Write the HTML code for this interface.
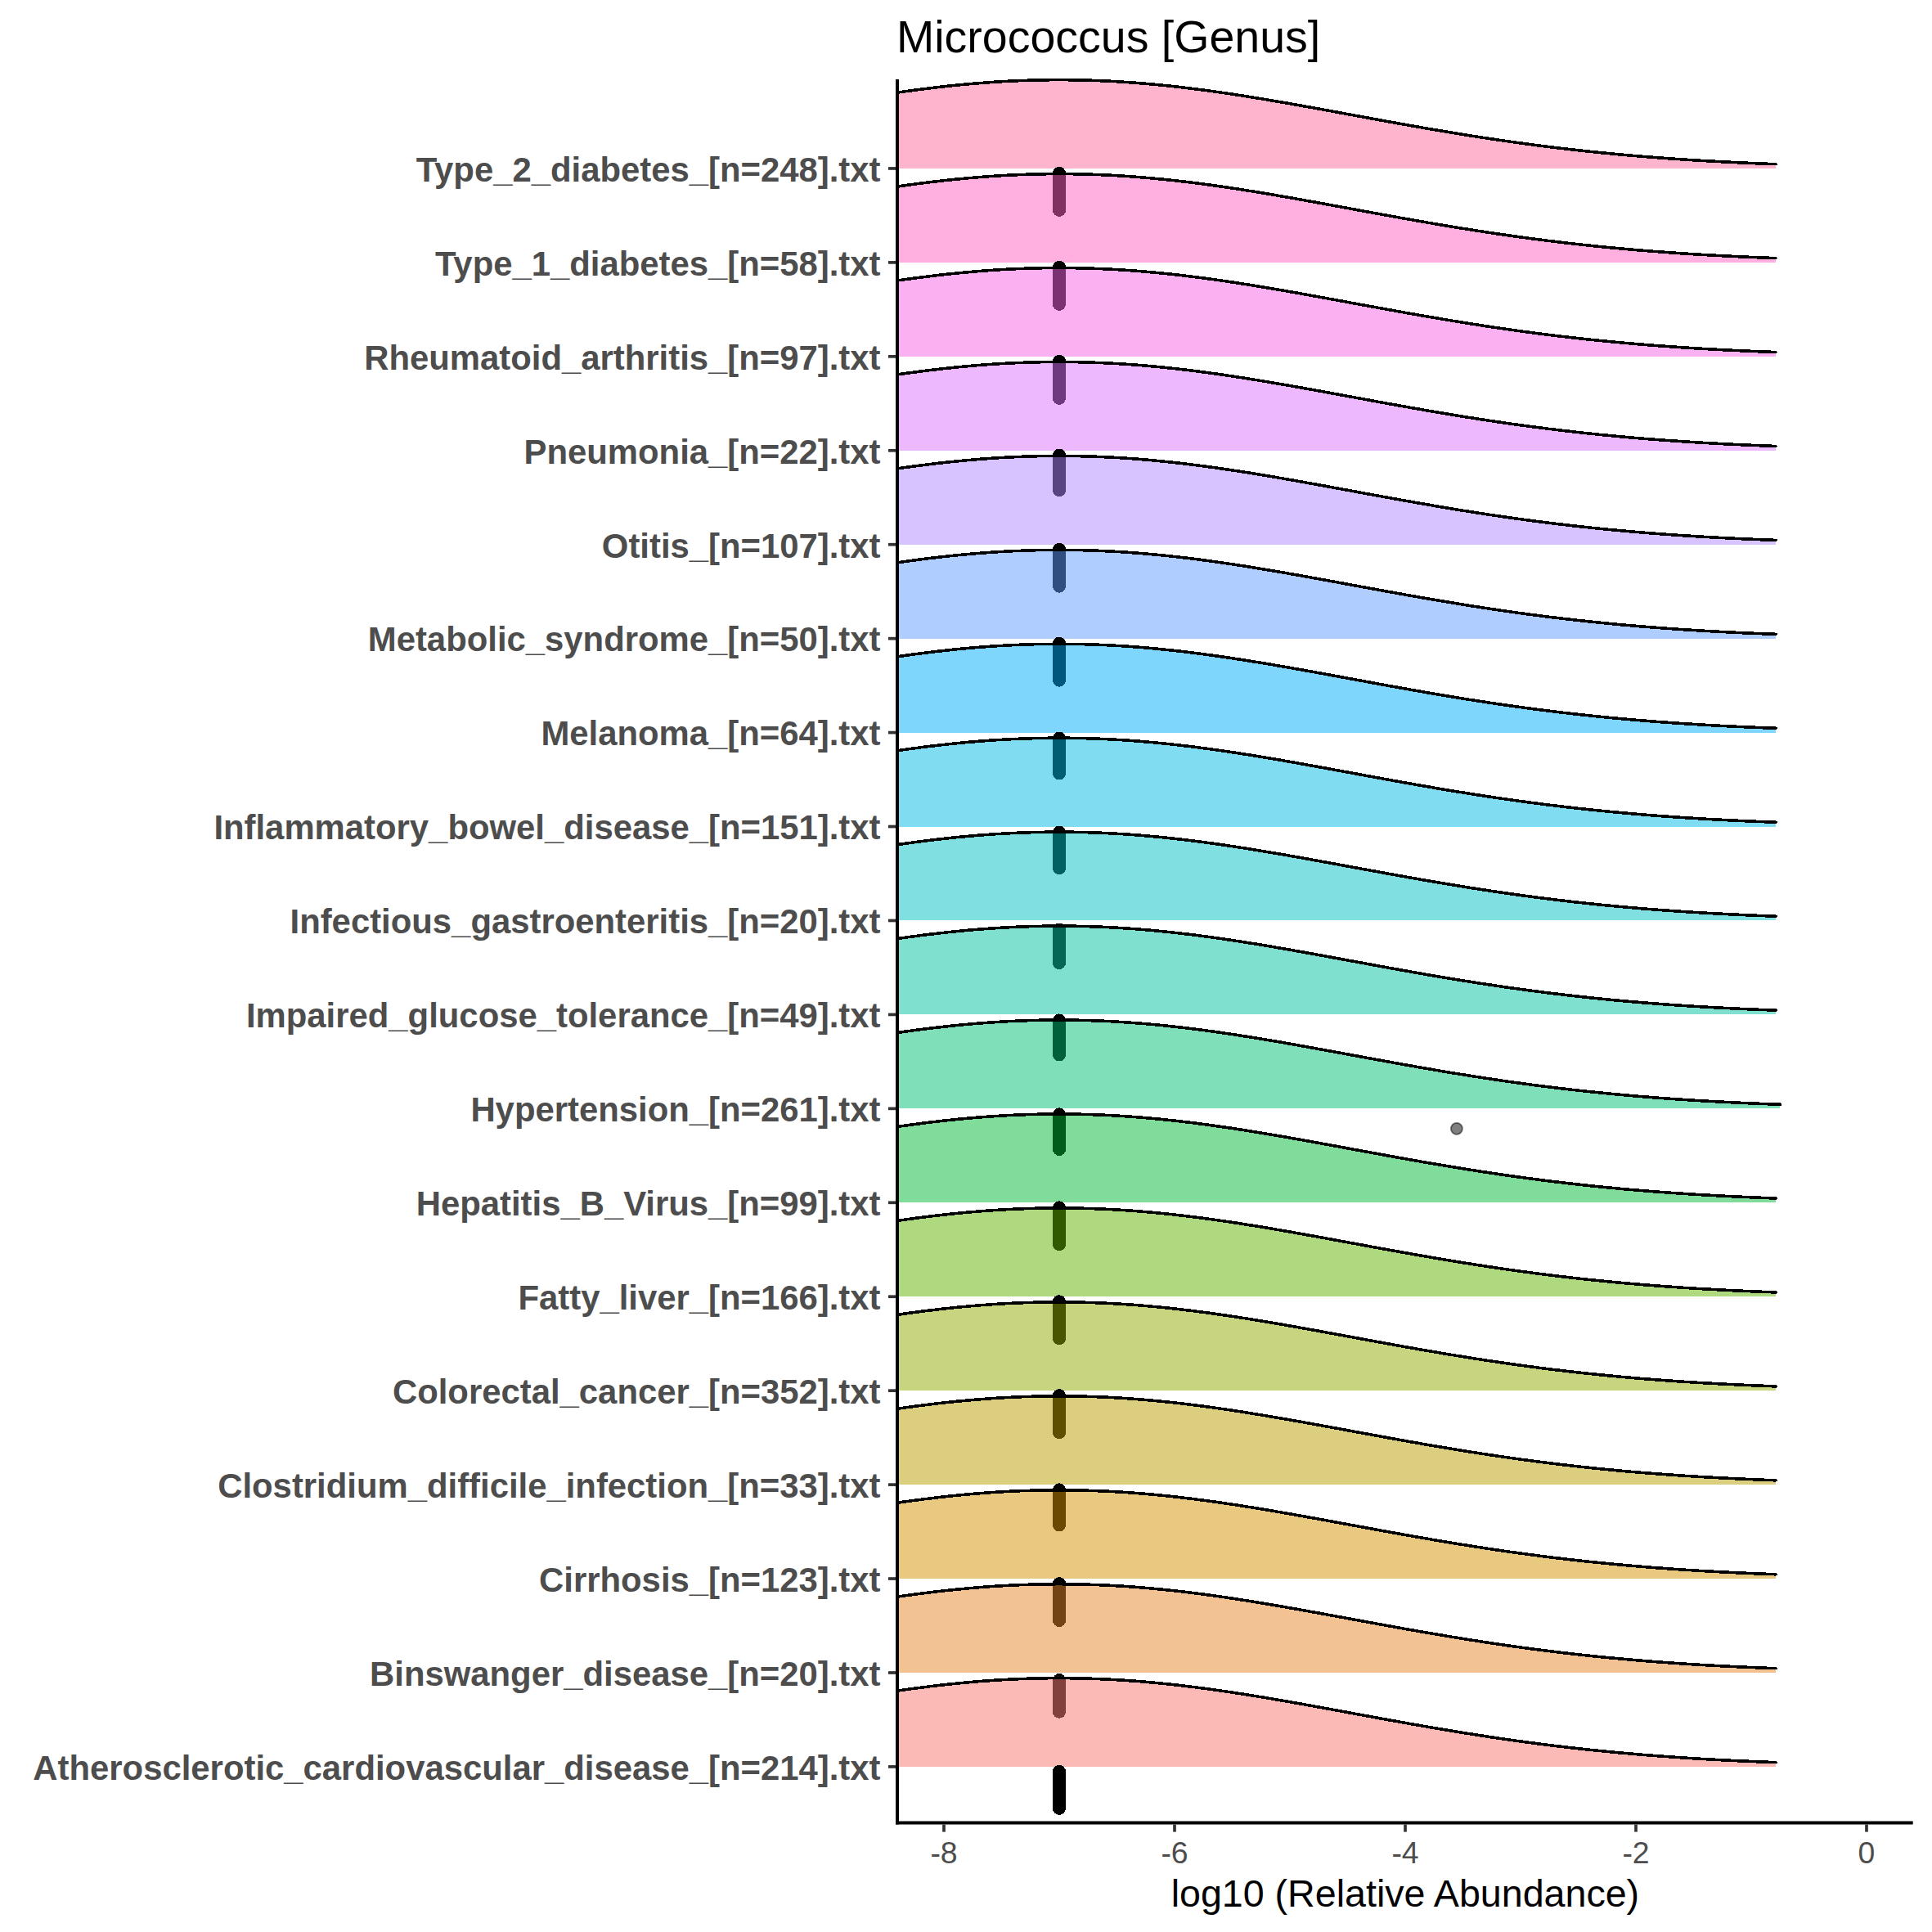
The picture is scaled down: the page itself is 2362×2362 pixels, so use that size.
<!DOCTYPE html><html><head><meta charset="utf-8"><style>html,body{margin:0;padding:0;background:#fff;}svg{display:block;}text{font-family:"Liberation Sans",sans-serif;}</style></head><body>
<svg width="2362" height="2362" viewBox="0 0 2362 2362">
<rect width="2362" height="2362" fill="#fff"/>
<defs><clipPath id="pc"><rect x="1097.0" y="0" width="1241.6999999999998" height="2362"/></clipPath></defs>
<g clip-path="url(#pc)" shape-rendering="crispEdges">
<path d="M1095.0,205.95 L1095.0,113.42 1101.0,112.56 1107.0,111.71 1113.0,110.89 1119.0,110.08 1125.0,109.29 1131.0,108.53 1137.0,107.78 1143.0,107.06 1149.0,106.36 1155.0,105.69 1161.0,105.04 1167.0,104.41 1173.0,103.81 1179.0,103.24 1185.0,102.69 1191.0,102.16 1197.0,101.67 1203.0,101.20 1209.0,100.76 1215.0,100.34 1221.0,99.96 1227.0,99.60 1233.0,99.28 1239.0,98.98 1245.0,98.71 1251.0,98.47 1257.0,98.26 1263.0,98.09 1269.0,97.94 1275.0,97.82 1281.0,97.73 1287.0,97.68 1293.0,97.65 1299.0,97.66 1305.0,97.69 1311.0,97.76 1317.0,97.86 1323.0,97.98 1329.0,98.14 1335.0,98.33 1341.0,98.55 1347.0,98.80 1353.0,99.07 1359.0,99.38 1365.0,99.72 1371.0,100.08 1377.0,100.48 1383.0,100.90 1389.0,101.35 1395.0,101.83 1401.0,102.33 1407.0,102.87 1413.0,103.42 1419.0,104.01 1425.0,104.62 1431.0,105.25 1437.0,105.91 1443.0,106.59 1449.0,107.30 1455.0,108.03 1461.0,108.78 1467.0,109.55 1473.0,110.35 1479.0,111.16 1485.0,111.99 1491.0,112.85 1497.0,113.72 1503.0,114.60 1509.0,115.51 1515.0,116.43 1521.0,117.37 1527.0,118.32 1533.0,119.29 1539.0,120.27 1545.0,121.26 1551.0,122.27 1557.0,123.29 1563.0,124.32 1569.0,125.35 1575.0,126.40 1581.0,127.46 1587.0,128.52 1593.0,129.59 1599.0,130.67 1605.0,131.75 1611.0,132.84 1617.0,133.93 1623.0,135.03 1629.0,136.13 1635.0,137.23 1641.0,138.34 1647.0,139.44 1653.0,140.55 1659.0,141.65 1665.0,142.76 1671.0,143.86 1677.0,144.96 1683.0,146.06 1689.0,147.16 1695.0,148.25 1701.0,149.34 1707.0,150.42 1713.0,151.50 1719.0,152.57 1725.0,153.64 1731.0,154.69 1737.0,155.75 1743.0,156.79 1749.0,157.83 1755.0,158.85 1761.0,159.87 1767.0,160.88 1773.0,161.88 1779.0,162.87 1785.0,163.85 1791.0,164.82 1797.0,165.78 1803.0,166.72 1809.0,167.66 1815.0,168.58 1821.0,169.49 1827.0,170.39 1833.0,171.28 1839.0,172.16 1845.0,173.02 1851.0,173.87 1857.0,174.70 1863.0,175.52 1869.0,176.33 1875.0,177.13 1881.0,177.91 1887.0,178.68 1893.0,179.44 1899.0,180.18 1905.0,180.91 1911.0,181.62 1917.0,182.32 1923.0,183.01 1929.0,183.68 1935.0,184.34 1941.0,184.99 1947.0,185.62 1953.0,186.24 1959.0,186.85 1965.0,187.44 1971.0,188.02 1977.0,188.58 1983.0,189.14 1989.0,189.68 1995.0,190.20 2001.0,190.72 2007.0,191.22 2013.0,191.71 2019.0,192.19 2025.0,192.65 2031.0,193.10 2037.0,193.54 2043.0,193.97 2049.0,194.39 2055.0,194.80 2061.0,195.19 2067.0,195.57 2073.0,195.95 2079.0,196.31 2085.0,196.66 2091.0,197.00 2097.0,197.33 2103.0,197.65 2109.0,197.97 2115.0,198.27 2121.0,198.56 2127.0,198.85 2133.0,199.12 2139.0,199.39 2145.0,199.64 2151.0,199.89 2157.0,200.13 2163.0,200.37 2169.0,200.59 2171.0,200.66 L2171.0,205.95Z" fill="#FF699C" fill-opacity="0.5"/>
<path d="M1095.0,113.42 1101.0,112.56 1107.0,111.71 1113.0,110.89 1119.0,110.08 1125.0,109.29 1131.0,108.53 1137.0,107.78 1143.0,107.06 1149.0,106.36 1155.0,105.69 1161.0,105.04 1167.0,104.41 1173.0,103.81 1179.0,103.24 1185.0,102.69 1191.0,102.16 1197.0,101.67 1203.0,101.20 1209.0,100.76 1215.0,100.34 1221.0,99.96 1227.0,99.60 1233.0,99.28 1239.0,98.98 1245.0,98.71 1251.0,98.47 1257.0,98.26 1263.0,98.09 1269.0,97.94 1275.0,97.82 1281.0,97.73 1287.0,97.68 1293.0,97.65 1299.0,97.66 1305.0,97.69 1311.0,97.76 1317.0,97.86 1323.0,97.98 1329.0,98.14 1335.0,98.33 1341.0,98.55 1347.0,98.80 1353.0,99.07 1359.0,99.38 1365.0,99.72 1371.0,100.08 1377.0,100.48 1383.0,100.90 1389.0,101.35 1395.0,101.83 1401.0,102.33 1407.0,102.87 1413.0,103.42 1419.0,104.01 1425.0,104.62 1431.0,105.25 1437.0,105.91 1443.0,106.59 1449.0,107.30 1455.0,108.03 1461.0,108.78 1467.0,109.55 1473.0,110.35 1479.0,111.16 1485.0,111.99 1491.0,112.85 1497.0,113.72 1503.0,114.60 1509.0,115.51 1515.0,116.43 1521.0,117.37 1527.0,118.32 1533.0,119.29 1539.0,120.27 1545.0,121.26 1551.0,122.27 1557.0,123.29 1563.0,124.32 1569.0,125.35 1575.0,126.40 1581.0,127.46 1587.0,128.52 1593.0,129.59 1599.0,130.67 1605.0,131.75 1611.0,132.84 1617.0,133.93 1623.0,135.03 1629.0,136.13 1635.0,137.23 1641.0,138.34 1647.0,139.44 1653.0,140.55 1659.0,141.65 1665.0,142.76 1671.0,143.86 1677.0,144.96 1683.0,146.06 1689.0,147.16 1695.0,148.25 1701.0,149.34 1707.0,150.42 1713.0,151.50 1719.0,152.57 1725.0,153.64 1731.0,154.69 1737.0,155.75 1743.0,156.79 1749.0,157.83 1755.0,158.85 1761.0,159.87 1767.0,160.88 1773.0,161.88 1779.0,162.87 1785.0,163.85 1791.0,164.82 1797.0,165.78 1803.0,166.72 1809.0,167.66 1815.0,168.58 1821.0,169.49 1827.0,170.39 1833.0,171.28 1839.0,172.16 1845.0,173.02 1851.0,173.87 1857.0,174.70 1863.0,175.52 1869.0,176.33 1875.0,177.13 1881.0,177.91 1887.0,178.68 1893.0,179.44 1899.0,180.18 1905.0,180.91 1911.0,181.62 1917.0,182.32 1923.0,183.01 1929.0,183.68 1935.0,184.34 1941.0,184.99 1947.0,185.62 1953.0,186.24 1959.0,186.85 1965.0,187.44 1971.0,188.02 1977.0,188.58 1983.0,189.14 1989.0,189.68 1995.0,190.20 2001.0,190.72 2007.0,191.22 2013.0,191.71 2019.0,192.19 2025.0,192.65 2031.0,193.10 2037.0,193.54 2043.0,193.97 2049.0,194.39 2055.0,194.80 2061.0,195.19 2067.0,195.57 2073.0,195.95 2079.0,196.31 2085.0,196.66 2091.0,197.00 2097.0,197.33 2103.0,197.65 2109.0,197.97 2115.0,198.27 2121.0,198.56 2127.0,198.85 2133.0,199.12 2139.0,199.39 2145.0,199.64 2151.0,199.89 2157.0,200.13 2163.0,200.37 2169.0,200.59 2171.0,200.66" fill="none" stroke="#000" stroke-width="3.6" stroke-linejoin="round" stroke-linecap="round"/>
<line x1="1295.0" y1="211.95" x2="1295.0" y2="256.95" stroke="#000" stroke-opacity="1.0" stroke-width="16" stroke-linecap="round"/>
<path d="M1095.0,320.89 L1095.0,228.36 1101.0,227.50 1107.0,226.65 1113.0,225.83 1119.0,225.02 1125.0,224.23 1131.0,223.47 1137.0,222.72 1143.0,222.00 1149.0,221.30 1155.0,220.63 1161.0,219.98 1167.0,219.35 1173.0,218.75 1179.0,218.18 1185.0,217.63 1191.0,217.10 1197.0,216.61 1203.0,216.14 1209.0,215.70 1215.0,215.28 1221.0,214.90 1227.0,214.54 1233.0,214.22 1239.0,213.92 1245.0,213.65 1251.0,213.41 1257.0,213.20 1263.0,213.03 1269.0,212.88 1275.0,212.76 1281.0,212.67 1287.0,212.62 1293.0,212.59 1299.0,212.60 1305.0,212.63 1311.0,212.70 1317.0,212.80 1323.0,212.92 1329.0,213.08 1335.0,213.27 1341.0,213.49 1347.0,213.74 1353.0,214.01 1359.0,214.32 1365.0,214.66 1371.0,215.02 1377.0,215.42 1383.0,215.84 1389.0,216.29 1395.0,216.77 1401.0,217.27 1407.0,217.81 1413.0,218.36 1419.0,218.95 1425.0,219.56 1431.0,220.19 1437.0,220.85 1443.0,221.53 1449.0,222.24 1455.0,222.97 1461.0,223.72 1467.0,224.49 1473.0,225.29 1479.0,226.10 1485.0,226.93 1491.0,227.79 1497.0,228.66 1503.0,229.54 1509.0,230.45 1515.0,231.37 1521.0,232.31 1527.0,233.26 1533.0,234.23 1539.0,235.21 1545.0,236.20 1551.0,237.21 1557.0,238.23 1563.0,239.26 1569.0,240.29 1575.0,241.34 1581.0,242.40 1587.0,243.46 1593.0,244.53 1599.0,245.61 1605.0,246.69 1611.0,247.78 1617.0,248.87 1623.0,249.97 1629.0,251.07 1635.0,252.17 1641.0,253.28 1647.0,254.38 1653.0,255.49 1659.0,256.59 1665.0,257.70 1671.0,258.80 1677.0,259.90 1683.0,261.00 1689.0,262.10 1695.0,263.19 1701.0,264.28 1707.0,265.36 1713.0,266.44 1719.0,267.51 1725.0,268.58 1731.0,269.63 1737.0,270.69 1743.0,271.73 1749.0,272.77 1755.0,273.79 1761.0,274.81 1767.0,275.82 1773.0,276.82 1779.0,277.81 1785.0,278.79 1791.0,279.76 1797.0,280.72 1803.0,281.66 1809.0,282.60 1815.0,283.52 1821.0,284.43 1827.0,285.33 1833.0,286.22 1839.0,287.10 1845.0,287.96 1851.0,288.81 1857.0,289.64 1863.0,290.46 1869.0,291.27 1875.0,292.07 1881.0,292.85 1887.0,293.62 1893.0,294.38 1899.0,295.12 1905.0,295.85 1911.0,296.56 1917.0,297.26 1923.0,297.95 1929.0,298.62 1935.0,299.28 1941.0,299.93 1947.0,300.56 1953.0,301.18 1959.0,301.79 1965.0,302.38 1971.0,302.96 1977.0,303.52 1983.0,304.08 1989.0,304.62 1995.0,305.14 2001.0,305.66 2007.0,306.16 2013.0,306.65 2019.0,307.13 2025.0,307.59 2031.0,308.04 2037.0,308.48 2043.0,308.91 2049.0,309.33 2055.0,309.74 2061.0,310.13 2067.0,310.51 2073.0,310.89 2079.0,311.25 2085.0,311.60 2091.0,311.94 2097.0,312.27 2103.0,312.59 2109.0,312.91 2115.0,313.21 2121.0,313.50 2127.0,313.79 2133.0,314.06 2139.0,314.33 2145.0,314.58 2151.0,314.83 2157.0,315.07 2163.0,315.31 2169.0,315.53 2171.0,315.60 L2171.0,320.89Z" fill="#FF61C3" fill-opacity="0.5"/>
<path d="M1095.0,228.36 1101.0,227.50 1107.0,226.65 1113.0,225.83 1119.0,225.02 1125.0,224.23 1131.0,223.47 1137.0,222.72 1143.0,222.00 1149.0,221.30 1155.0,220.63 1161.0,219.98 1167.0,219.35 1173.0,218.75 1179.0,218.18 1185.0,217.63 1191.0,217.10 1197.0,216.61 1203.0,216.14 1209.0,215.70 1215.0,215.28 1221.0,214.90 1227.0,214.54 1233.0,214.22 1239.0,213.92 1245.0,213.65 1251.0,213.41 1257.0,213.20 1263.0,213.03 1269.0,212.88 1275.0,212.76 1281.0,212.67 1287.0,212.62 1293.0,212.59 1299.0,212.60 1305.0,212.63 1311.0,212.70 1317.0,212.80 1323.0,212.92 1329.0,213.08 1335.0,213.27 1341.0,213.49 1347.0,213.74 1353.0,214.01 1359.0,214.32 1365.0,214.66 1371.0,215.02 1377.0,215.42 1383.0,215.84 1389.0,216.29 1395.0,216.77 1401.0,217.27 1407.0,217.81 1413.0,218.36 1419.0,218.95 1425.0,219.56 1431.0,220.19 1437.0,220.85 1443.0,221.53 1449.0,222.24 1455.0,222.97 1461.0,223.72 1467.0,224.49 1473.0,225.29 1479.0,226.10 1485.0,226.93 1491.0,227.79 1497.0,228.66 1503.0,229.54 1509.0,230.45 1515.0,231.37 1521.0,232.31 1527.0,233.26 1533.0,234.23 1539.0,235.21 1545.0,236.20 1551.0,237.21 1557.0,238.23 1563.0,239.26 1569.0,240.29 1575.0,241.34 1581.0,242.40 1587.0,243.46 1593.0,244.53 1599.0,245.61 1605.0,246.69 1611.0,247.78 1617.0,248.87 1623.0,249.97 1629.0,251.07 1635.0,252.17 1641.0,253.28 1647.0,254.38 1653.0,255.49 1659.0,256.59 1665.0,257.70 1671.0,258.80 1677.0,259.90 1683.0,261.00 1689.0,262.10 1695.0,263.19 1701.0,264.28 1707.0,265.36 1713.0,266.44 1719.0,267.51 1725.0,268.58 1731.0,269.63 1737.0,270.69 1743.0,271.73 1749.0,272.77 1755.0,273.79 1761.0,274.81 1767.0,275.82 1773.0,276.82 1779.0,277.81 1785.0,278.79 1791.0,279.76 1797.0,280.72 1803.0,281.66 1809.0,282.60 1815.0,283.52 1821.0,284.43 1827.0,285.33 1833.0,286.22 1839.0,287.10 1845.0,287.96 1851.0,288.81 1857.0,289.64 1863.0,290.46 1869.0,291.27 1875.0,292.07 1881.0,292.85 1887.0,293.62 1893.0,294.38 1899.0,295.12 1905.0,295.85 1911.0,296.56 1917.0,297.26 1923.0,297.95 1929.0,298.62 1935.0,299.28 1941.0,299.93 1947.0,300.56 1953.0,301.18 1959.0,301.79 1965.0,302.38 1971.0,302.96 1977.0,303.52 1983.0,304.08 1989.0,304.62 1995.0,305.14 2001.0,305.66 2007.0,306.16 2013.0,306.65 2019.0,307.13 2025.0,307.59 2031.0,308.04 2037.0,308.48 2043.0,308.91 2049.0,309.33 2055.0,309.74 2061.0,310.13 2067.0,310.51 2073.0,310.89 2079.0,311.25 2085.0,311.60 2091.0,311.94 2097.0,312.27 2103.0,312.59 2109.0,312.91 2115.0,313.21 2121.0,313.50 2127.0,313.79 2133.0,314.06 2139.0,314.33 2145.0,314.58 2151.0,314.83 2157.0,315.07 2163.0,315.31 2169.0,315.53 2171.0,315.60" fill="none" stroke="#000" stroke-width="3.6" stroke-linejoin="round" stroke-linecap="round"/>
<line x1="1295.0" y1="326.89" x2="1295.0" y2="371.89" stroke="#000" stroke-opacity="1.0" stroke-width="16" stroke-linecap="round"/>
<path d="M1095.0,435.83 L1095.0,343.30 1101.0,342.44 1107.0,341.59 1113.0,340.77 1119.0,339.96 1125.0,339.17 1131.0,338.41 1137.0,337.66 1143.0,336.94 1149.0,336.24 1155.0,335.57 1161.0,334.92 1167.0,334.29 1173.0,333.69 1179.0,333.12 1185.0,332.57 1191.0,332.04 1197.0,331.55 1203.0,331.08 1209.0,330.64 1215.0,330.22 1221.0,329.84 1227.0,329.48 1233.0,329.16 1239.0,328.86 1245.0,328.59 1251.0,328.35 1257.0,328.14 1263.0,327.97 1269.0,327.82 1275.0,327.70 1281.0,327.61 1287.0,327.56 1293.0,327.53 1299.0,327.54 1305.0,327.57 1311.0,327.64 1317.0,327.74 1323.0,327.86 1329.0,328.02 1335.0,328.21 1341.0,328.43 1347.0,328.68 1353.0,328.95 1359.0,329.26 1365.0,329.60 1371.0,329.96 1377.0,330.36 1383.0,330.78 1389.0,331.23 1395.0,331.71 1401.0,332.21 1407.0,332.75 1413.0,333.30 1419.0,333.89 1425.0,334.50 1431.0,335.13 1437.0,335.79 1443.0,336.47 1449.0,337.18 1455.0,337.91 1461.0,338.66 1467.0,339.43 1473.0,340.23 1479.0,341.04 1485.0,341.87 1491.0,342.73 1497.0,343.60 1503.0,344.48 1509.0,345.39 1515.0,346.31 1521.0,347.25 1527.0,348.20 1533.0,349.17 1539.0,350.15 1545.0,351.14 1551.0,352.15 1557.0,353.17 1563.0,354.20 1569.0,355.23 1575.0,356.28 1581.0,357.34 1587.0,358.40 1593.0,359.47 1599.0,360.55 1605.0,361.63 1611.0,362.72 1617.0,363.81 1623.0,364.91 1629.0,366.01 1635.0,367.11 1641.0,368.22 1647.0,369.32 1653.0,370.43 1659.0,371.53 1665.0,372.64 1671.0,373.74 1677.0,374.84 1683.0,375.94 1689.0,377.04 1695.0,378.13 1701.0,379.22 1707.0,380.30 1713.0,381.38 1719.0,382.45 1725.0,383.52 1731.0,384.57 1737.0,385.63 1743.0,386.67 1749.0,387.71 1755.0,388.73 1761.0,389.75 1767.0,390.76 1773.0,391.76 1779.0,392.75 1785.0,393.73 1791.0,394.70 1797.0,395.66 1803.0,396.60 1809.0,397.54 1815.0,398.46 1821.0,399.37 1827.0,400.27 1833.0,401.16 1839.0,402.04 1845.0,402.90 1851.0,403.75 1857.0,404.58 1863.0,405.40 1869.0,406.21 1875.0,407.01 1881.0,407.79 1887.0,408.56 1893.0,409.32 1899.0,410.06 1905.0,410.79 1911.0,411.50 1917.0,412.20 1923.0,412.89 1929.0,413.56 1935.0,414.22 1941.0,414.87 1947.0,415.50 1953.0,416.12 1959.0,416.73 1965.0,417.32 1971.0,417.90 1977.0,418.46 1983.0,419.02 1989.0,419.56 1995.0,420.08 2001.0,420.60 2007.0,421.10 2013.0,421.59 2019.0,422.07 2025.0,422.53 2031.0,422.98 2037.0,423.42 2043.0,423.85 2049.0,424.27 2055.0,424.68 2061.0,425.07 2067.0,425.45 2073.0,425.83 2079.0,426.19 2085.0,426.54 2091.0,426.88 2097.0,427.21 2103.0,427.53 2109.0,427.85 2115.0,428.15 2121.0,428.44 2127.0,428.73 2133.0,429.00 2139.0,429.27 2145.0,429.52 2151.0,429.77 2157.0,430.01 2163.0,430.25 2169.0,430.47 2171.0,430.54 L2171.0,435.83Z" fill="#F564E3" fill-opacity="0.5"/>
<path d="M1095.0,343.30 1101.0,342.44 1107.0,341.59 1113.0,340.77 1119.0,339.96 1125.0,339.17 1131.0,338.41 1137.0,337.66 1143.0,336.94 1149.0,336.24 1155.0,335.57 1161.0,334.92 1167.0,334.29 1173.0,333.69 1179.0,333.12 1185.0,332.57 1191.0,332.04 1197.0,331.55 1203.0,331.08 1209.0,330.64 1215.0,330.22 1221.0,329.84 1227.0,329.48 1233.0,329.16 1239.0,328.86 1245.0,328.59 1251.0,328.35 1257.0,328.14 1263.0,327.97 1269.0,327.82 1275.0,327.70 1281.0,327.61 1287.0,327.56 1293.0,327.53 1299.0,327.54 1305.0,327.57 1311.0,327.64 1317.0,327.74 1323.0,327.86 1329.0,328.02 1335.0,328.21 1341.0,328.43 1347.0,328.68 1353.0,328.95 1359.0,329.26 1365.0,329.60 1371.0,329.96 1377.0,330.36 1383.0,330.78 1389.0,331.23 1395.0,331.71 1401.0,332.21 1407.0,332.75 1413.0,333.30 1419.0,333.89 1425.0,334.50 1431.0,335.13 1437.0,335.79 1443.0,336.47 1449.0,337.18 1455.0,337.91 1461.0,338.66 1467.0,339.43 1473.0,340.23 1479.0,341.04 1485.0,341.87 1491.0,342.73 1497.0,343.60 1503.0,344.48 1509.0,345.39 1515.0,346.31 1521.0,347.25 1527.0,348.20 1533.0,349.17 1539.0,350.15 1545.0,351.14 1551.0,352.15 1557.0,353.17 1563.0,354.20 1569.0,355.23 1575.0,356.28 1581.0,357.34 1587.0,358.40 1593.0,359.47 1599.0,360.55 1605.0,361.63 1611.0,362.72 1617.0,363.81 1623.0,364.91 1629.0,366.01 1635.0,367.11 1641.0,368.22 1647.0,369.32 1653.0,370.43 1659.0,371.53 1665.0,372.64 1671.0,373.74 1677.0,374.84 1683.0,375.94 1689.0,377.04 1695.0,378.13 1701.0,379.22 1707.0,380.30 1713.0,381.38 1719.0,382.45 1725.0,383.52 1731.0,384.57 1737.0,385.63 1743.0,386.67 1749.0,387.71 1755.0,388.73 1761.0,389.75 1767.0,390.76 1773.0,391.76 1779.0,392.75 1785.0,393.73 1791.0,394.70 1797.0,395.66 1803.0,396.60 1809.0,397.54 1815.0,398.46 1821.0,399.37 1827.0,400.27 1833.0,401.16 1839.0,402.04 1845.0,402.90 1851.0,403.75 1857.0,404.58 1863.0,405.40 1869.0,406.21 1875.0,407.01 1881.0,407.79 1887.0,408.56 1893.0,409.32 1899.0,410.06 1905.0,410.79 1911.0,411.50 1917.0,412.20 1923.0,412.89 1929.0,413.56 1935.0,414.22 1941.0,414.87 1947.0,415.50 1953.0,416.12 1959.0,416.73 1965.0,417.32 1971.0,417.90 1977.0,418.46 1983.0,419.02 1989.0,419.56 1995.0,420.08 2001.0,420.60 2007.0,421.10 2013.0,421.59 2019.0,422.07 2025.0,422.53 2031.0,422.98 2037.0,423.42 2043.0,423.85 2049.0,424.27 2055.0,424.68 2061.0,425.07 2067.0,425.45 2073.0,425.83 2079.0,426.19 2085.0,426.54 2091.0,426.88 2097.0,427.21 2103.0,427.53 2109.0,427.85 2115.0,428.15 2121.0,428.44 2127.0,428.73 2133.0,429.00 2139.0,429.27 2145.0,429.52 2151.0,429.77 2157.0,430.01 2163.0,430.25 2169.0,430.47 2171.0,430.54" fill="none" stroke="#000" stroke-width="3.6" stroke-linejoin="round" stroke-linecap="round"/>
<line x1="1295.0" y1="441.83" x2="1295.0" y2="486.83" stroke="#000" stroke-opacity="1.0" stroke-width="16" stroke-linecap="round"/>
<path d="M1095.0,550.77 L1095.0,458.24 1101.0,457.38 1107.0,456.53 1113.0,455.71 1119.0,454.90 1125.0,454.11 1131.0,453.35 1137.0,452.60 1143.0,451.88 1149.0,451.18 1155.0,450.51 1161.0,449.86 1167.0,449.23 1173.0,448.63 1179.0,448.06 1185.0,447.51 1191.0,446.98 1197.0,446.49 1203.0,446.02 1209.0,445.58 1215.0,445.16 1221.0,444.78 1227.0,444.42 1233.0,444.10 1239.0,443.80 1245.0,443.53 1251.0,443.29 1257.0,443.08 1263.0,442.91 1269.0,442.76 1275.0,442.64 1281.0,442.55 1287.0,442.50 1293.0,442.47 1299.0,442.48 1305.0,442.51 1311.0,442.58 1317.0,442.68 1323.0,442.80 1329.0,442.96 1335.0,443.15 1341.0,443.37 1347.0,443.62 1353.0,443.89 1359.0,444.20 1365.0,444.54 1371.0,444.90 1377.0,445.30 1383.0,445.72 1389.0,446.17 1395.0,446.65 1401.0,447.15 1407.0,447.69 1413.0,448.24 1419.0,448.83 1425.0,449.44 1431.0,450.07 1437.0,450.73 1443.0,451.41 1449.0,452.12 1455.0,452.85 1461.0,453.60 1467.0,454.37 1473.0,455.17 1479.0,455.98 1485.0,456.81 1491.0,457.67 1497.0,458.54 1503.0,459.42 1509.0,460.33 1515.0,461.25 1521.0,462.19 1527.0,463.14 1533.0,464.11 1539.0,465.09 1545.0,466.08 1551.0,467.09 1557.0,468.11 1563.0,469.14 1569.0,470.17 1575.0,471.22 1581.0,472.28 1587.0,473.34 1593.0,474.41 1599.0,475.49 1605.0,476.57 1611.0,477.66 1617.0,478.75 1623.0,479.85 1629.0,480.95 1635.0,482.05 1641.0,483.16 1647.0,484.26 1653.0,485.37 1659.0,486.47 1665.0,487.58 1671.0,488.68 1677.0,489.78 1683.0,490.88 1689.0,491.98 1695.0,493.07 1701.0,494.16 1707.0,495.24 1713.0,496.32 1719.0,497.39 1725.0,498.46 1731.0,499.51 1737.0,500.57 1743.0,501.61 1749.0,502.65 1755.0,503.67 1761.0,504.69 1767.0,505.70 1773.0,506.70 1779.0,507.69 1785.0,508.67 1791.0,509.64 1797.0,510.60 1803.0,511.54 1809.0,512.48 1815.0,513.40 1821.0,514.31 1827.0,515.21 1833.0,516.10 1839.0,516.98 1845.0,517.84 1851.0,518.69 1857.0,519.52 1863.0,520.34 1869.0,521.15 1875.0,521.95 1881.0,522.73 1887.0,523.50 1893.0,524.26 1899.0,525.00 1905.0,525.73 1911.0,526.44 1917.0,527.14 1923.0,527.83 1929.0,528.50 1935.0,529.16 1941.0,529.81 1947.0,530.44 1953.0,531.06 1959.0,531.67 1965.0,532.26 1971.0,532.84 1977.0,533.40 1983.0,533.96 1989.0,534.50 1995.0,535.02 2001.0,535.54 2007.0,536.04 2013.0,536.53 2019.0,537.01 2025.0,537.47 2031.0,537.92 2037.0,538.36 2043.0,538.79 2049.0,539.21 2055.0,539.62 2061.0,540.01 2067.0,540.39 2073.0,540.77 2079.0,541.13 2085.0,541.48 2091.0,541.82 2097.0,542.15 2103.0,542.47 2109.0,542.79 2115.0,543.09 2121.0,543.38 2127.0,543.67 2133.0,543.94 2139.0,544.21 2145.0,544.46 2151.0,544.71 2157.0,544.95 2163.0,545.19 2169.0,545.41 2171.0,545.48 L2171.0,550.77Z" fill="#DB72FB" fill-opacity="0.5"/>
<path d="M1095.0,458.24 1101.0,457.38 1107.0,456.53 1113.0,455.71 1119.0,454.90 1125.0,454.11 1131.0,453.35 1137.0,452.60 1143.0,451.88 1149.0,451.18 1155.0,450.51 1161.0,449.86 1167.0,449.23 1173.0,448.63 1179.0,448.06 1185.0,447.51 1191.0,446.98 1197.0,446.49 1203.0,446.02 1209.0,445.58 1215.0,445.16 1221.0,444.78 1227.0,444.42 1233.0,444.10 1239.0,443.80 1245.0,443.53 1251.0,443.29 1257.0,443.08 1263.0,442.91 1269.0,442.76 1275.0,442.64 1281.0,442.55 1287.0,442.50 1293.0,442.47 1299.0,442.48 1305.0,442.51 1311.0,442.58 1317.0,442.68 1323.0,442.80 1329.0,442.96 1335.0,443.15 1341.0,443.37 1347.0,443.62 1353.0,443.89 1359.0,444.20 1365.0,444.54 1371.0,444.90 1377.0,445.30 1383.0,445.72 1389.0,446.17 1395.0,446.65 1401.0,447.15 1407.0,447.69 1413.0,448.24 1419.0,448.83 1425.0,449.44 1431.0,450.07 1437.0,450.73 1443.0,451.41 1449.0,452.12 1455.0,452.85 1461.0,453.60 1467.0,454.37 1473.0,455.17 1479.0,455.98 1485.0,456.81 1491.0,457.67 1497.0,458.54 1503.0,459.42 1509.0,460.33 1515.0,461.25 1521.0,462.19 1527.0,463.14 1533.0,464.11 1539.0,465.09 1545.0,466.08 1551.0,467.09 1557.0,468.11 1563.0,469.14 1569.0,470.17 1575.0,471.22 1581.0,472.28 1587.0,473.34 1593.0,474.41 1599.0,475.49 1605.0,476.57 1611.0,477.66 1617.0,478.75 1623.0,479.85 1629.0,480.95 1635.0,482.05 1641.0,483.16 1647.0,484.26 1653.0,485.37 1659.0,486.47 1665.0,487.58 1671.0,488.68 1677.0,489.78 1683.0,490.88 1689.0,491.98 1695.0,493.07 1701.0,494.16 1707.0,495.24 1713.0,496.32 1719.0,497.39 1725.0,498.46 1731.0,499.51 1737.0,500.57 1743.0,501.61 1749.0,502.65 1755.0,503.67 1761.0,504.69 1767.0,505.70 1773.0,506.70 1779.0,507.69 1785.0,508.67 1791.0,509.64 1797.0,510.60 1803.0,511.54 1809.0,512.48 1815.0,513.40 1821.0,514.31 1827.0,515.21 1833.0,516.10 1839.0,516.98 1845.0,517.84 1851.0,518.69 1857.0,519.52 1863.0,520.34 1869.0,521.15 1875.0,521.95 1881.0,522.73 1887.0,523.50 1893.0,524.26 1899.0,525.00 1905.0,525.73 1911.0,526.44 1917.0,527.14 1923.0,527.83 1929.0,528.50 1935.0,529.16 1941.0,529.81 1947.0,530.44 1953.0,531.06 1959.0,531.67 1965.0,532.26 1971.0,532.84 1977.0,533.40 1983.0,533.96 1989.0,534.50 1995.0,535.02 2001.0,535.54 2007.0,536.04 2013.0,536.53 2019.0,537.01 2025.0,537.47 2031.0,537.92 2037.0,538.36 2043.0,538.79 2049.0,539.21 2055.0,539.62 2061.0,540.01 2067.0,540.39 2073.0,540.77 2079.0,541.13 2085.0,541.48 2091.0,541.82 2097.0,542.15 2103.0,542.47 2109.0,542.79 2115.0,543.09 2121.0,543.38 2127.0,543.67 2133.0,543.94 2139.0,544.21 2145.0,544.46 2151.0,544.71 2157.0,544.95 2163.0,545.19 2169.0,545.41 2171.0,545.48" fill="none" stroke="#000" stroke-width="3.6" stroke-linejoin="round" stroke-linecap="round"/>
<line x1="1295.0" y1="556.47" x2="1295.0" y2="599.27" stroke="#000" stroke-opacity="1.0" stroke-width="16" stroke-linecap="round"/>
<path d="M1095.0,665.71 L1095.0,573.18 1101.0,572.32 1107.0,571.47 1113.0,570.65 1119.0,569.84 1125.0,569.05 1131.0,568.29 1137.0,567.54 1143.0,566.82 1149.0,566.12 1155.0,565.45 1161.0,564.80 1167.0,564.17 1173.0,563.57 1179.0,563.00 1185.0,562.45 1191.0,561.92 1197.0,561.43 1203.0,560.96 1209.0,560.52 1215.0,560.10 1221.0,559.72 1227.0,559.36 1233.0,559.04 1239.0,558.74 1245.0,558.47 1251.0,558.23 1257.0,558.02 1263.0,557.85 1269.0,557.70 1275.0,557.58 1281.0,557.49 1287.0,557.44 1293.0,557.41 1299.0,557.42 1305.0,557.45 1311.0,557.52 1317.0,557.62 1323.0,557.74 1329.0,557.90 1335.0,558.09 1341.0,558.31 1347.0,558.56 1353.0,558.83 1359.0,559.14 1365.0,559.48 1371.0,559.84 1377.0,560.24 1383.0,560.66 1389.0,561.11 1395.0,561.59 1401.0,562.09 1407.0,562.63 1413.0,563.18 1419.0,563.77 1425.0,564.38 1431.0,565.01 1437.0,565.67 1443.0,566.35 1449.0,567.06 1455.0,567.79 1461.0,568.54 1467.0,569.31 1473.0,570.11 1479.0,570.92 1485.0,571.75 1491.0,572.61 1497.0,573.48 1503.0,574.36 1509.0,575.27 1515.0,576.19 1521.0,577.13 1527.0,578.08 1533.0,579.05 1539.0,580.03 1545.0,581.02 1551.0,582.03 1557.0,583.05 1563.0,584.08 1569.0,585.11 1575.0,586.16 1581.0,587.22 1587.0,588.28 1593.0,589.35 1599.0,590.43 1605.0,591.51 1611.0,592.60 1617.0,593.69 1623.0,594.79 1629.0,595.89 1635.0,596.99 1641.0,598.10 1647.0,599.20 1653.0,600.31 1659.0,601.41 1665.0,602.52 1671.0,603.62 1677.0,604.72 1683.0,605.82 1689.0,606.92 1695.0,608.01 1701.0,609.10 1707.0,610.18 1713.0,611.26 1719.0,612.33 1725.0,613.40 1731.0,614.45 1737.0,615.51 1743.0,616.55 1749.0,617.59 1755.0,618.61 1761.0,619.63 1767.0,620.64 1773.0,621.64 1779.0,622.63 1785.0,623.61 1791.0,624.58 1797.0,625.54 1803.0,626.48 1809.0,627.42 1815.0,628.34 1821.0,629.25 1827.0,630.15 1833.0,631.04 1839.0,631.92 1845.0,632.78 1851.0,633.63 1857.0,634.46 1863.0,635.28 1869.0,636.09 1875.0,636.89 1881.0,637.67 1887.0,638.44 1893.0,639.20 1899.0,639.94 1905.0,640.67 1911.0,641.38 1917.0,642.08 1923.0,642.77 1929.0,643.44 1935.0,644.10 1941.0,644.75 1947.0,645.38 1953.0,646.00 1959.0,646.61 1965.0,647.20 1971.0,647.78 1977.0,648.34 1983.0,648.90 1989.0,649.44 1995.0,649.96 2001.0,650.48 2007.0,650.98 2013.0,651.47 2019.0,651.95 2025.0,652.41 2031.0,652.86 2037.0,653.30 2043.0,653.73 2049.0,654.15 2055.0,654.56 2061.0,654.95 2067.0,655.33 2073.0,655.71 2079.0,656.07 2085.0,656.42 2091.0,656.76 2097.0,657.09 2103.0,657.41 2109.0,657.73 2115.0,658.03 2121.0,658.32 2127.0,658.61 2133.0,658.88 2139.0,659.15 2145.0,659.40 2151.0,659.65 2157.0,659.89 2163.0,660.13 2169.0,660.35 2171.0,660.42 L2171.0,665.71Z" fill="#AE87FF" fill-opacity="0.5"/>
<path d="M1095.0,573.18 1101.0,572.32 1107.0,571.47 1113.0,570.65 1119.0,569.84 1125.0,569.05 1131.0,568.29 1137.0,567.54 1143.0,566.82 1149.0,566.12 1155.0,565.45 1161.0,564.80 1167.0,564.17 1173.0,563.57 1179.0,563.00 1185.0,562.45 1191.0,561.92 1197.0,561.43 1203.0,560.96 1209.0,560.52 1215.0,560.10 1221.0,559.72 1227.0,559.36 1233.0,559.04 1239.0,558.74 1245.0,558.47 1251.0,558.23 1257.0,558.02 1263.0,557.85 1269.0,557.70 1275.0,557.58 1281.0,557.49 1287.0,557.44 1293.0,557.41 1299.0,557.42 1305.0,557.45 1311.0,557.52 1317.0,557.62 1323.0,557.74 1329.0,557.90 1335.0,558.09 1341.0,558.31 1347.0,558.56 1353.0,558.83 1359.0,559.14 1365.0,559.48 1371.0,559.84 1377.0,560.24 1383.0,560.66 1389.0,561.11 1395.0,561.59 1401.0,562.09 1407.0,562.63 1413.0,563.18 1419.0,563.77 1425.0,564.38 1431.0,565.01 1437.0,565.67 1443.0,566.35 1449.0,567.06 1455.0,567.79 1461.0,568.54 1467.0,569.31 1473.0,570.11 1479.0,570.92 1485.0,571.75 1491.0,572.61 1497.0,573.48 1503.0,574.36 1509.0,575.27 1515.0,576.19 1521.0,577.13 1527.0,578.08 1533.0,579.05 1539.0,580.03 1545.0,581.02 1551.0,582.03 1557.0,583.05 1563.0,584.08 1569.0,585.11 1575.0,586.16 1581.0,587.22 1587.0,588.28 1593.0,589.35 1599.0,590.43 1605.0,591.51 1611.0,592.60 1617.0,593.69 1623.0,594.79 1629.0,595.89 1635.0,596.99 1641.0,598.10 1647.0,599.20 1653.0,600.31 1659.0,601.41 1665.0,602.52 1671.0,603.62 1677.0,604.72 1683.0,605.82 1689.0,606.92 1695.0,608.01 1701.0,609.10 1707.0,610.18 1713.0,611.26 1719.0,612.33 1725.0,613.40 1731.0,614.45 1737.0,615.51 1743.0,616.55 1749.0,617.59 1755.0,618.61 1761.0,619.63 1767.0,620.64 1773.0,621.64 1779.0,622.63 1785.0,623.61 1791.0,624.58 1797.0,625.54 1803.0,626.48 1809.0,627.42 1815.0,628.34 1821.0,629.25 1827.0,630.15 1833.0,631.04 1839.0,631.92 1845.0,632.78 1851.0,633.63 1857.0,634.46 1863.0,635.28 1869.0,636.09 1875.0,636.89 1881.0,637.67 1887.0,638.44 1893.0,639.20 1899.0,639.94 1905.0,640.67 1911.0,641.38 1917.0,642.08 1923.0,642.77 1929.0,643.44 1935.0,644.10 1941.0,644.75 1947.0,645.38 1953.0,646.00 1959.0,646.61 1965.0,647.20 1971.0,647.78 1977.0,648.34 1983.0,648.90 1989.0,649.44 1995.0,649.96 2001.0,650.48 2007.0,650.98 2013.0,651.47 2019.0,651.95 2025.0,652.41 2031.0,652.86 2037.0,653.30 2043.0,653.73 2049.0,654.15 2055.0,654.56 2061.0,654.95 2067.0,655.33 2073.0,655.71 2079.0,656.07 2085.0,656.42 2091.0,656.76 2097.0,657.09 2103.0,657.41 2109.0,657.73 2115.0,658.03 2121.0,658.32 2127.0,658.61 2133.0,658.88 2139.0,659.15 2145.0,659.40 2151.0,659.65 2157.0,659.89 2163.0,660.13 2169.0,660.35 2171.0,660.42" fill="none" stroke="#000" stroke-width="3.6" stroke-linejoin="round" stroke-linecap="round"/>
<line x1="1295.0" y1="671.71" x2="1295.0" y2="716.71" stroke="#000" stroke-opacity="1.0" stroke-width="16" stroke-linecap="round"/>
<path d="M1095.0,780.65 L1095.0,688.12 1101.0,687.26 1107.0,686.41 1113.0,685.59 1119.0,684.78 1125.0,683.99 1131.0,683.23 1137.0,682.48 1143.0,681.76 1149.0,681.06 1155.0,680.39 1161.0,679.74 1167.0,679.11 1173.0,678.51 1179.0,677.94 1185.0,677.39 1191.0,676.86 1197.0,676.37 1203.0,675.90 1209.0,675.46 1215.0,675.04 1221.0,674.66 1227.0,674.30 1233.0,673.98 1239.0,673.68 1245.0,673.41 1251.0,673.17 1257.0,672.96 1263.0,672.79 1269.0,672.64 1275.0,672.52 1281.0,672.43 1287.0,672.38 1293.0,672.35 1299.0,672.36 1305.0,672.39 1311.0,672.46 1317.0,672.56 1323.0,672.68 1329.0,672.84 1335.0,673.03 1341.0,673.25 1347.0,673.50 1353.0,673.77 1359.0,674.08 1365.0,674.42 1371.0,674.78 1377.0,675.18 1383.0,675.60 1389.0,676.05 1395.0,676.53 1401.0,677.03 1407.0,677.57 1413.0,678.12 1419.0,678.71 1425.0,679.32 1431.0,679.95 1437.0,680.61 1443.0,681.29 1449.0,682.00 1455.0,682.73 1461.0,683.48 1467.0,684.25 1473.0,685.05 1479.0,685.86 1485.0,686.69 1491.0,687.55 1497.0,688.42 1503.0,689.30 1509.0,690.21 1515.0,691.13 1521.0,692.07 1527.0,693.02 1533.0,693.99 1539.0,694.97 1545.0,695.96 1551.0,696.97 1557.0,697.99 1563.0,699.02 1569.0,700.05 1575.0,701.10 1581.0,702.16 1587.0,703.22 1593.0,704.29 1599.0,705.37 1605.0,706.45 1611.0,707.54 1617.0,708.63 1623.0,709.73 1629.0,710.83 1635.0,711.93 1641.0,713.04 1647.0,714.14 1653.0,715.25 1659.0,716.35 1665.0,717.46 1671.0,718.56 1677.0,719.66 1683.0,720.76 1689.0,721.86 1695.0,722.95 1701.0,724.04 1707.0,725.12 1713.0,726.20 1719.0,727.27 1725.0,728.34 1731.0,729.39 1737.0,730.45 1743.0,731.49 1749.0,732.53 1755.0,733.55 1761.0,734.57 1767.0,735.58 1773.0,736.58 1779.0,737.57 1785.0,738.55 1791.0,739.52 1797.0,740.48 1803.0,741.42 1809.0,742.36 1815.0,743.28 1821.0,744.19 1827.0,745.09 1833.0,745.98 1839.0,746.86 1845.0,747.72 1851.0,748.57 1857.0,749.40 1863.0,750.22 1869.0,751.03 1875.0,751.83 1881.0,752.61 1887.0,753.38 1893.0,754.14 1899.0,754.88 1905.0,755.61 1911.0,756.32 1917.0,757.02 1923.0,757.71 1929.0,758.38 1935.0,759.04 1941.0,759.69 1947.0,760.32 1953.0,760.94 1959.0,761.55 1965.0,762.14 1971.0,762.72 1977.0,763.28 1983.0,763.84 1989.0,764.38 1995.0,764.90 2001.0,765.42 2007.0,765.92 2013.0,766.41 2019.0,766.89 2025.0,767.35 2031.0,767.80 2037.0,768.24 2043.0,768.67 2049.0,769.09 2055.0,769.50 2061.0,769.89 2067.0,770.27 2073.0,770.65 2079.0,771.01 2085.0,771.36 2091.0,771.70 2097.0,772.03 2103.0,772.35 2109.0,772.67 2115.0,772.97 2121.0,773.26 2127.0,773.55 2133.0,773.82 2139.0,774.09 2145.0,774.34 2151.0,774.59 2157.0,774.83 2163.0,775.07 2169.0,775.29 2171.0,775.36 L2171.0,780.65Z" fill="#619CFF" fill-opacity="0.5"/>
<path d="M1095.0,688.12 1101.0,687.26 1107.0,686.41 1113.0,685.59 1119.0,684.78 1125.0,683.99 1131.0,683.23 1137.0,682.48 1143.0,681.76 1149.0,681.06 1155.0,680.39 1161.0,679.74 1167.0,679.11 1173.0,678.51 1179.0,677.94 1185.0,677.39 1191.0,676.86 1197.0,676.37 1203.0,675.90 1209.0,675.46 1215.0,675.04 1221.0,674.66 1227.0,674.30 1233.0,673.98 1239.0,673.68 1245.0,673.41 1251.0,673.17 1257.0,672.96 1263.0,672.79 1269.0,672.64 1275.0,672.52 1281.0,672.43 1287.0,672.38 1293.0,672.35 1299.0,672.36 1305.0,672.39 1311.0,672.46 1317.0,672.56 1323.0,672.68 1329.0,672.84 1335.0,673.03 1341.0,673.25 1347.0,673.50 1353.0,673.77 1359.0,674.08 1365.0,674.42 1371.0,674.78 1377.0,675.18 1383.0,675.60 1389.0,676.05 1395.0,676.53 1401.0,677.03 1407.0,677.57 1413.0,678.12 1419.0,678.71 1425.0,679.32 1431.0,679.95 1437.0,680.61 1443.0,681.29 1449.0,682.00 1455.0,682.73 1461.0,683.48 1467.0,684.25 1473.0,685.05 1479.0,685.86 1485.0,686.69 1491.0,687.55 1497.0,688.42 1503.0,689.30 1509.0,690.21 1515.0,691.13 1521.0,692.07 1527.0,693.02 1533.0,693.99 1539.0,694.97 1545.0,695.96 1551.0,696.97 1557.0,697.99 1563.0,699.02 1569.0,700.05 1575.0,701.10 1581.0,702.16 1587.0,703.22 1593.0,704.29 1599.0,705.37 1605.0,706.45 1611.0,707.54 1617.0,708.63 1623.0,709.73 1629.0,710.83 1635.0,711.93 1641.0,713.04 1647.0,714.14 1653.0,715.25 1659.0,716.35 1665.0,717.46 1671.0,718.56 1677.0,719.66 1683.0,720.76 1689.0,721.86 1695.0,722.95 1701.0,724.04 1707.0,725.12 1713.0,726.20 1719.0,727.27 1725.0,728.34 1731.0,729.39 1737.0,730.45 1743.0,731.49 1749.0,732.53 1755.0,733.55 1761.0,734.57 1767.0,735.58 1773.0,736.58 1779.0,737.57 1785.0,738.55 1791.0,739.52 1797.0,740.48 1803.0,741.42 1809.0,742.36 1815.0,743.28 1821.0,744.19 1827.0,745.09 1833.0,745.98 1839.0,746.86 1845.0,747.72 1851.0,748.57 1857.0,749.40 1863.0,750.22 1869.0,751.03 1875.0,751.83 1881.0,752.61 1887.0,753.38 1893.0,754.14 1899.0,754.88 1905.0,755.61 1911.0,756.32 1917.0,757.02 1923.0,757.71 1929.0,758.38 1935.0,759.04 1941.0,759.69 1947.0,760.32 1953.0,760.94 1959.0,761.55 1965.0,762.14 1971.0,762.72 1977.0,763.28 1983.0,763.84 1989.0,764.38 1995.0,764.90 2001.0,765.42 2007.0,765.92 2013.0,766.41 2019.0,766.89 2025.0,767.35 2031.0,767.80 2037.0,768.24 2043.0,768.67 2049.0,769.09 2055.0,769.50 2061.0,769.89 2067.0,770.27 2073.0,770.65 2079.0,771.01 2085.0,771.36 2091.0,771.70 2097.0,772.03 2103.0,772.35 2109.0,772.67 2115.0,772.97 2121.0,773.26 2127.0,773.55 2133.0,773.82 2139.0,774.09 2145.0,774.34 2151.0,774.59 2157.0,774.83 2163.0,775.07 2169.0,775.29 2171.0,775.36" fill="none" stroke="#000" stroke-width="3.6" stroke-linejoin="round" stroke-linecap="round"/>
<line x1="1295.0" y1="786.65" x2="1295.0" y2="831.65" stroke="#000" stroke-opacity="1.0" stroke-width="16" stroke-linecap="round"/>
<path d="M1095.0,895.59 L1095.0,803.06 1101.0,802.20 1107.0,801.35 1113.0,800.53 1119.0,799.72 1125.0,798.93 1131.0,798.17 1137.0,797.42 1143.0,796.70 1149.0,796.00 1155.0,795.33 1161.0,794.68 1167.0,794.05 1173.0,793.45 1179.0,792.88 1185.0,792.33 1191.0,791.80 1197.0,791.31 1203.0,790.84 1209.0,790.40 1215.0,789.98 1221.0,789.60 1227.0,789.24 1233.0,788.92 1239.0,788.62 1245.0,788.35 1251.0,788.11 1257.0,787.90 1263.0,787.73 1269.0,787.58 1275.0,787.46 1281.0,787.37 1287.0,787.32 1293.0,787.29 1299.0,787.30 1305.0,787.33 1311.0,787.40 1317.0,787.50 1323.0,787.62 1329.0,787.78 1335.0,787.97 1341.0,788.19 1347.0,788.44 1353.0,788.71 1359.0,789.02 1365.0,789.36 1371.0,789.72 1377.0,790.12 1383.0,790.54 1389.0,790.99 1395.0,791.47 1401.0,791.97 1407.0,792.51 1413.0,793.06 1419.0,793.65 1425.0,794.26 1431.0,794.89 1437.0,795.55 1443.0,796.23 1449.0,796.94 1455.0,797.67 1461.0,798.42 1467.0,799.19 1473.0,799.99 1479.0,800.80 1485.0,801.63 1491.0,802.49 1497.0,803.36 1503.0,804.24 1509.0,805.15 1515.0,806.07 1521.0,807.01 1527.0,807.96 1533.0,808.93 1539.0,809.91 1545.0,810.90 1551.0,811.91 1557.0,812.93 1563.0,813.96 1569.0,814.99 1575.0,816.04 1581.0,817.10 1587.0,818.16 1593.0,819.23 1599.0,820.31 1605.0,821.39 1611.0,822.48 1617.0,823.57 1623.0,824.67 1629.0,825.77 1635.0,826.87 1641.0,827.98 1647.0,829.08 1653.0,830.19 1659.0,831.29 1665.0,832.40 1671.0,833.50 1677.0,834.60 1683.0,835.70 1689.0,836.80 1695.0,837.89 1701.0,838.98 1707.0,840.06 1713.0,841.14 1719.0,842.21 1725.0,843.28 1731.0,844.33 1737.0,845.39 1743.0,846.43 1749.0,847.47 1755.0,848.49 1761.0,849.51 1767.0,850.52 1773.0,851.52 1779.0,852.51 1785.0,853.49 1791.0,854.46 1797.0,855.42 1803.0,856.36 1809.0,857.30 1815.0,858.22 1821.0,859.13 1827.0,860.03 1833.0,860.92 1839.0,861.80 1845.0,862.66 1851.0,863.51 1857.0,864.34 1863.0,865.16 1869.0,865.97 1875.0,866.77 1881.0,867.55 1887.0,868.32 1893.0,869.08 1899.0,869.82 1905.0,870.55 1911.0,871.26 1917.0,871.96 1923.0,872.65 1929.0,873.32 1935.0,873.98 1941.0,874.63 1947.0,875.26 1953.0,875.88 1959.0,876.49 1965.0,877.08 1971.0,877.66 1977.0,878.22 1983.0,878.78 1989.0,879.32 1995.0,879.84 2001.0,880.36 2007.0,880.86 2013.0,881.35 2019.0,881.83 2025.0,882.29 2031.0,882.74 2037.0,883.18 2043.0,883.61 2049.0,884.03 2055.0,884.44 2061.0,884.83 2067.0,885.21 2073.0,885.59 2079.0,885.95 2085.0,886.30 2091.0,886.64 2097.0,886.97 2103.0,887.29 2109.0,887.61 2115.0,887.91 2121.0,888.20 2127.0,888.49 2133.0,888.76 2139.0,889.03 2145.0,889.28 2151.0,889.53 2157.0,889.77 2163.0,890.01 2169.0,890.23 2171.0,890.30 L2171.0,895.59Z" fill="#00ADFA" fill-opacity="0.5"/>
<path d="M1095.0,803.06 1101.0,802.20 1107.0,801.35 1113.0,800.53 1119.0,799.72 1125.0,798.93 1131.0,798.17 1137.0,797.42 1143.0,796.70 1149.0,796.00 1155.0,795.33 1161.0,794.68 1167.0,794.05 1173.0,793.45 1179.0,792.88 1185.0,792.33 1191.0,791.80 1197.0,791.31 1203.0,790.84 1209.0,790.40 1215.0,789.98 1221.0,789.60 1227.0,789.24 1233.0,788.92 1239.0,788.62 1245.0,788.35 1251.0,788.11 1257.0,787.90 1263.0,787.73 1269.0,787.58 1275.0,787.46 1281.0,787.37 1287.0,787.32 1293.0,787.29 1299.0,787.30 1305.0,787.33 1311.0,787.40 1317.0,787.50 1323.0,787.62 1329.0,787.78 1335.0,787.97 1341.0,788.19 1347.0,788.44 1353.0,788.71 1359.0,789.02 1365.0,789.36 1371.0,789.72 1377.0,790.12 1383.0,790.54 1389.0,790.99 1395.0,791.47 1401.0,791.97 1407.0,792.51 1413.0,793.06 1419.0,793.65 1425.0,794.26 1431.0,794.89 1437.0,795.55 1443.0,796.23 1449.0,796.94 1455.0,797.67 1461.0,798.42 1467.0,799.19 1473.0,799.99 1479.0,800.80 1485.0,801.63 1491.0,802.49 1497.0,803.36 1503.0,804.24 1509.0,805.15 1515.0,806.07 1521.0,807.01 1527.0,807.96 1533.0,808.93 1539.0,809.91 1545.0,810.90 1551.0,811.91 1557.0,812.93 1563.0,813.96 1569.0,814.99 1575.0,816.04 1581.0,817.10 1587.0,818.16 1593.0,819.23 1599.0,820.31 1605.0,821.39 1611.0,822.48 1617.0,823.57 1623.0,824.67 1629.0,825.77 1635.0,826.87 1641.0,827.98 1647.0,829.08 1653.0,830.19 1659.0,831.29 1665.0,832.40 1671.0,833.50 1677.0,834.60 1683.0,835.70 1689.0,836.80 1695.0,837.89 1701.0,838.98 1707.0,840.06 1713.0,841.14 1719.0,842.21 1725.0,843.28 1731.0,844.33 1737.0,845.39 1743.0,846.43 1749.0,847.47 1755.0,848.49 1761.0,849.51 1767.0,850.52 1773.0,851.52 1779.0,852.51 1785.0,853.49 1791.0,854.46 1797.0,855.42 1803.0,856.36 1809.0,857.30 1815.0,858.22 1821.0,859.13 1827.0,860.03 1833.0,860.92 1839.0,861.80 1845.0,862.66 1851.0,863.51 1857.0,864.34 1863.0,865.16 1869.0,865.97 1875.0,866.77 1881.0,867.55 1887.0,868.32 1893.0,869.08 1899.0,869.82 1905.0,870.55 1911.0,871.26 1917.0,871.96 1923.0,872.65 1929.0,873.32 1935.0,873.98 1941.0,874.63 1947.0,875.26 1953.0,875.88 1959.0,876.49 1965.0,877.08 1971.0,877.66 1977.0,878.22 1983.0,878.78 1989.0,879.32 1995.0,879.84 2001.0,880.36 2007.0,880.86 2013.0,881.35 2019.0,881.83 2025.0,882.29 2031.0,882.74 2037.0,883.18 2043.0,883.61 2049.0,884.03 2055.0,884.44 2061.0,884.83 2067.0,885.21 2073.0,885.59 2079.0,885.95 2085.0,886.30 2091.0,886.64 2097.0,886.97 2103.0,887.29 2109.0,887.61 2115.0,887.91 2121.0,888.20 2127.0,888.49 2133.0,888.76 2139.0,889.03 2145.0,889.28 2151.0,889.53 2157.0,889.77 2163.0,890.01 2169.0,890.23 2171.0,890.30" fill="none" stroke="#000" stroke-width="3.6" stroke-linejoin="round" stroke-linecap="round"/>
<line x1="1295.0" y1="902.59" x2="1295.0" y2="945.59" stroke="#000" stroke-opacity="1.0" stroke-width="16" stroke-linecap="round"/>
<path d="M1095.0,1010.53 L1095.0,918.00 1101.0,917.14 1107.0,916.29 1113.0,915.47 1119.0,914.66 1125.0,913.87 1131.0,913.11 1137.0,912.36 1143.0,911.64 1149.0,910.94 1155.0,910.27 1161.0,909.62 1167.0,908.99 1173.0,908.39 1179.0,907.82 1185.0,907.27 1191.0,906.74 1197.0,906.25 1203.0,905.78 1209.0,905.34 1215.0,904.92 1221.0,904.54 1227.0,904.18 1233.0,903.86 1239.0,903.56 1245.0,903.29 1251.0,903.05 1257.0,902.84 1263.0,902.67 1269.0,902.52 1275.0,902.40 1281.0,902.31 1287.0,902.26 1293.0,902.23 1299.0,902.24 1305.0,902.27 1311.0,902.34 1317.0,902.44 1323.0,902.56 1329.0,902.72 1335.0,902.91 1341.0,903.13 1347.0,903.38 1353.0,903.65 1359.0,903.96 1365.0,904.30 1371.0,904.66 1377.0,905.06 1383.0,905.48 1389.0,905.93 1395.0,906.41 1401.0,906.91 1407.0,907.45 1413.0,908.00 1419.0,908.59 1425.0,909.20 1431.0,909.83 1437.0,910.49 1443.0,911.17 1449.0,911.88 1455.0,912.61 1461.0,913.36 1467.0,914.13 1473.0,914.93 1479.0,915.74 1485.0,916.57 1491.0,917.43 1497.0,918.30 1503.0,919.18 1509.0,920.09 1515.0,921.01 1521.0,921.95 1527.0,922.90 1533.0,923.87 1539.0,924.85 1545.0,925.84 1551.0,926.85 1557.0,927.87 1563.0,928.90 1569.0,929.93 1575.0,930.98 1581.0,932.04 1587.0,933.10 1593.0,934.17 1599.0,935.25 1605.0,936.33 1611.0,937.42 1617.0,938.51 1623.0,939.61 1629.0,940.71 1635.0,941.81 1641.0,942.92 1647.0,944.02 1653.0,945.13 1659.0,946.23 1665.0,947.34 1671.0,948.44 1677.0,949.54 1683.0,950.64 1689.0,951.74 1695.0,952.83 1701.0,953.92 1707.0,955.00 1713.0,956.08 1719.0,957.15 1725.0,958.22 1731.0,959.27 1737.0,960.33 1743.0,961.37 1749.0,962.41 1755.0,963.43 1761.0,964.45 1767.0,965.46 1773.0,966.46 1779.0,967.45 1785.0,968.43 1791.0,969.40 1797.0,970.36 1803.0,971.30 1809.0,972.24 1815.0,973.16 1821.0,974.07 1827.0,974.97 1833.0,975.86 1839.0,976.74 1845.0,977.60 1851.0,978.45 1857.0,979.28 1863.0,980.10 1869.0,980.91 1875.0,981.71 1881.0,982.49 1887.0,983.26 1893.0,984.02 1899.0,984.76 1905.0,985.49 1911.0,986.20 1917.0,986.90 1923.0,987.59 1929.0,988.26 1935.0,988.92 1941.0,989.57 1947.0,990.20 1953.0,990.82 1959.0,991.43 1965.0,992.02 1971.0,992.60 1977.0,993.16 1983.0,993.72 1989.0,994.26 1995.0,994.78 2001.0,995.30 2007.0,995.80 2013.0,996.29 2019.0,996.77 2025.0,997.23 2031.0,997.68 2037.0,998.12 2043.0,998.55 2049.0,998.97 2055.0,999.38 2061.0,999.77 2067.0,1000.15 2073.0,1000.53 2079.0,1000.89 2085.0,1001.24 2091.0,1001.58 2097.0,1001.91 2103.0,1002.23 2109.0,1002.55 2115.0,1002.85 2121.0,1003.14 2127.0,1003.43 2133.0,1003.70 2139.0,1003.97 2145.0,1004.22 2151.0,1004.47 2157.0,1004.71 2163.0,1004.95 2169.0,1005.17 2171.0,1005.24 L2171.0,1010.53Z" fill="#00B9E3" fill-opacity="0.5"/>
<path d="M1095.0,918.00 1101.0,917.14 1107.0,916.29 1113.0,915.47 1119.0,914.66 1125.0,913.87 1131.0,913.11 1137.0,912.36 1143.0,911.64 1149.0,910.94 1155.0,910.27 1161.0,909.62 1167.0,908.99 1173.0,908.39 1179.0,907.82 1185.0,907.27 1191.0,906.74 1197.0,906.25 1203.0,905.78 1209.0,905.34 1215.0,904.92 1221.0,904.54 1227.0,904.18 1233.0,903.86 1239.0,903.56 1245.0,903.29 1251.0,903.05 1257.0,902.84 1263.0,902.67 1269.0,902.52 1275.0,902.40 1281.0,902.31 1287.0,902.26 1293.0,902.23 1299.0,902.24 1305.0,902.27 1311.0,902.34 1317.0,902.44 1323.0,902.56 1329.0,902.72 1335.0,902.91 1341.0,903.13 1347.0,903.38 1353.0,903.65 1359.0,903.96 1365.0,904.30 1371.0,904.66 1377.0,905.06 1383.0,905.48 1389.0,905.93 1395.0,906.41 1401.0,906.91 1407.0,907.45 1413.0,908.00 1419.0,908.59 1425.0,909.20 1431.0,909.83 1437.0,910.49 1443.0,911.17 1449.0,911.88 1455.0,912.61 1461.0,913.36 1467.0,914.13 1473.0,914.93 1479.0,915.74 1485.0,916.57 1491.0,917.43 1497.0,918.30 1503.0,919.18 1509.0,920.09 1515.0,921.01 1521.0,921.95 1527.0,922.90 1533.0,923.87 1539.0,924.85 1545.0,925.84 1551.0,926.85 1557.0,927.87 1563.0,928.90 1569.0,929.93 1575.0,930.98 1581.0,932.04 1587.0,933.10 1593.0,934.17 1599.0,935.25 1605.0,936.33 1611.0,937.42 1617.0,938.51 1623.0,939.61 1629.0,940.71 1635.0,941.81 1641.0,942.92 1647.0,944.02 1653.0,945.13 1659.0,946.23 1665.0,947.34 1671.0,948.44 1677.0,949.54 1683.0,950.64 1689.0,951.74 1695.0,952.83 1701.0,953.92 1707.0,955.00 1713.0,956.08 1719.0,957.15 1725.0,958.22 1731.0,959.27 1737.0,960.33 1743.0,961.37 1749.0,962.41 1755.0,963.43 1761.0,964.45 1767.0,965.46 1773.0,966.46 1779.0,967.45 1785.0,968.43 1791.0,969.40 1797.0,970.36 1803.0,971.30 1809.0,972.24 1815.0,973.16 1821.0,974.07 1827.0,974.97 1833.0,975.86 1839.0,976.74 1845.0,977.60 1851.0,978.45 1857.0,979.28 1863.0,980.10 1869.0,980.91 1875.0,981.71 1881.0,982.49 1887.0,983.26 1893.0,984.02 1899.0,984.76 1905.0,985.49 1911.0,986.20 1917.0,986.90 1923.0,987.59 1929.0,988.26 1935.0,988.92 1941.0,989.57 1947.0,990.20 1953.0,990.82 1959.0,991.43 1965.0,992.02 1971.0,992.60 1977.0,993.16 1983.0,993.72 1989.0,994.26 1995.0,994.78 2001.0,995.30 2007.0,995.80 2013.0,996.29 2019.0,996.77 2025.0,997.23 2031.0,997.68 2037.0,998.12 2043.0,998.55 2049.0,998.97 2055.0,999.38 2061.0,999.77 2067.0,1000.15 2073.0,1000.53 2079.0,1000.89 2085.0,1001.24 2091.0,1001.58 2097.0,1001.91 2103.0,1002.23 2109.0,1002.55 2115.0,1002.85 2121.0,1003.14 2127.0,1003.43 2133.0,1003.70 2139.0,1003.97 2145.0,1004.22 2151.0,1004.47 2157.0,1004.71 2163.0,1004.95 2169.0,1005.17 2171.0,1005.24" fill="none" stroke="#000" stroke-width="3.6" stroke-linejoin="round" stroke-linecap="round"/>
<line x1="1295.0" y1="1017.53" x2="1295.0" y2="1061.33" stroke="#000" stroke-opacity="1.0" stroke-width="16" stroke-linecap="round"/>
<path d="M1095.0,1125.47 L1095.0,1032.94 1101.0,1032.08 1107.0,1031.23 1113.0,1030.41 1119.0,1029.60 1125.0,1028.81 1131.0,1028.05 1137.0,1027.30 1143.0,1026.58 1149.0,1025.88 1155.0,1025.21 1161.0,1024.56 1167.0,1023.93 1173.0,1023.33 1179.0,1022.76 1185.0,1022.21 1191.0,1021.68 1197.0,1021.19 1203.0,1020.72 1209.0,1020.28 1215.0,1019.86 1221.0,1019.48 1227.0,1019.12 1233.0,1018.80 1239.0,1018.50 1245.0,1018.23 1251.0,1017.99 1257.0,1017.78 1263.0,1017.61 1269.0,1017.46 1275.0,1017.34 1281.0,1017.25 1287.0,1017.20 1293.0,1017.17 1299.0,1017.18 1305.0,1017.21 1311.0,1017.28 1317.0,1017.38 1323.0,1017.50 1329.0,1017.66 1335.0,1017.85 1341.0,1018.07 1347.0,1018.32 1353.0,1018.59 1359.0,1018.90 1365.0,1019.24 1371.0,1019.60 1377.0,1020.00 1383.0,1020.42 1389.0,1020.87 1395.0,1021.35 1401.0,1021.85 1407.0,1022.39 1413.0,1022.94 1419.0,1023.53 1425.0,1024.14 1431.0,1024.77 1437.0,1025.43 1443.0,1026.11 1449.0,1026.82 1455.0,1027.55 1461.0,1028.30 1467.0,1029.07 1473.0,1029.87 1479.0,1030.68 1485.0,1031.51 1491.0,1032.37 1497.0,1033.24 1503.0,1034.12 1509.0,1035.03 1515.0,1035.95 1521.0,1036.89 1527.0,1037.84 1533.0,1038.81 1539.0,1039.79 1545.0,1040.78 1551.0,1041.79 1557.0,1042.81 1563.0,1043.84 1569.0,1044.87 1575.0,1045.92 1581.0,1046.98 1587.0,1048.04 1593.0,1049.11 1599.0,1050.19 1605.0,1051.27 1611.0,1052.36 1617.0,1053.45 1623.0,1054.55 1629.0,1055.65 1635.0,1056.75 1641.0,1057.86 1647.0,1058.96 1653.0,1060.07 1659.0,1061.17 1665.0,1062.28 1671.0,1063.38 1677.0,1064.48 1683.0,1065.58 1689.0,1066.68 1695.0,1067.77 1701.0,1068.86 1707.0,1069.94 1713.0,1071.02 1719.0,1072.09 1725.0,1073.16 1731.0,1074.21 1737.0,1075.27 1743.0,1076.31 1749.0,1077.35 1755.0,1078.37 1761.0,1079.39 1767.0,1080.40 1773.0,1081.40 1779.0,1082.39 1785.0,1083.37 1791.0,1084.34 1797.0,1085.30 1803.0,1086.24 1809.0,1087.18 1815.0,1088.10 1821.0,1089.01 1827.0,1089.91 1833.0,1090.80 1839.0,1091.68 1845.0,1092.54 1851.0,1093.39 1857.0,1094.22 1863.0,1095.04 1869.0,1095.85 1875.0,1096.65 1881.0,1097.43 1887.0,1098.20 1893.0,1098.96 1899.0,1099.70 1905.0,1100.43 1911.0,1101.14 1917.0,1101.84 1923.0,1102.53 1929.0,1103.20 1935.0,1103.86 1941.0,1104.51 1947.0,1105.14 1953.0,1105.76 1959.0,1106.37 1965.0,1106.96 1971.0,1107.54 1977.0,1108.10 1983.0,1108.66 1989.0,1109.20 1995.0,1109.72 2001.0,1110.24 2007.0,1110.74 2013.0,1111.23 2019.0,1111.71 2025.0,1112.17 2031.0,1112.62 2037.0,1113.06 2043.0,1113.49 2049.0,1113.91 2055.0,1114.32 2061.0,1114.71 2067.0,1115.09 2073.0,1115.47 2079.0,1115.83 2085.0,1116.18 2091.0,1116.52 2097.0,1116.85 2103.0,1117.17 2109.0,1117.49 2115.0,1117.79 2121.0,1118.08 2127.0,1118.37 2133.0,1118.64 2139.0,1118.91 2145.0,1119.16 2151.0,1119.41 2157.0,1119.65 2163.0,1119.89 2169.0,1120.11 2171.0,1120.18 L2171.0,1125.47Z" fill="#00BFC4" fill-opacity="0.5"/>
<path d="M1095.0,1032.94 1101.0,1032.08 1107.0,1031.23 1113.0,1030.41 1119.0,1029.60 1125.0,1028.81 1131.0,1028.05 1137.0,1027.30 1143.0,1026.58 1149.0,1025.88 1155.0,1025.21 1161.0,1024.56 1167.0,1023.93 1173.0,1023.33 1179.0,1022.76 1185.0,1022.21 1191.0,1021.68 1197.0,1021.19 1203.0,1020.72 1209.0,1020.28 1215.0,1019.86 1221.0,1019.48 1227.0,1019.12 1233.0,1018.80 1239.0,1018.50 1245.0,1018.23 1251.0,1017.99 1257.0,1017.78 1263.0,1017.61 1269.0,1017.46 1275.0,1017.34 1281.0,1017.25 1287.0,1017.20 1293.0,1017.17 1299.0,1017.18 1305.0,1017.21 1311.0,1017.28 1317.0,1017.38 1323.0,1017.50 1329.0,1017.66 1335.0,1017.85 1341.0,1018.07 1347.0,1018.32 1353.0,1018.59 1359.0,1018.90 1365.0,1019.24 1371.0,1019.60 1377.0,1020.00 1383.0,1020.42 1389.0,1020.87 1395.0,1021.35 1401.0,1021.85 1407.0,1022.39 1413.0,1022.94 1419.0,1023.53 1425.0,1024.14 1431.0,1024.77 1437.0,1025.43 1443.0,1026.11 1449.0,1026.82 1455.0,1027.55 1461.0,1028.30 1467.0,1029.07 1473.0,1029.87 1479.0,1030.68 1485.0,1031.51 1491.0,1032.37 1497.0,1033.24 1503.0,1034.12 1509.0,1035.03 1515.0,1035.95 1521.0,1036.89 1527.0,1037.84 1533.0,1038.81 1539.0,1039.79 1545.0,1040.78 1551.0,1041.79 1557.0,1042.81 1563.0,1043.84 1569.0,1044.87 1575.0,1045.92 1581.0,1046.98 1587.0,1048.04 1593.0,1049.11 1599.0,1050.19 1605.0,1051.27 1611.0,1052.36 1617.0,1053.45 1623.0,1054.55 1629.0,1055.65 1635.0,1056.75 1641.0,1057.86 1647.0,1058.96 1653.0,1060.07 1659.0,1061.17 1665.0,1062.28 1671.0,1063.38 1677.0,1064.48 1683.0,1065.58 1689.0,1066.68 1695.0,1067.77 1701.0,1068.86 1707.0,1069.94 1713.0,1071.02 1719.0,1072.09 1725.0,1073.16 1731.0,1074.21 1737.0,1075.27 1743.0,1076.31 1749.0,1077.35 1755.0,1078.37 1761.0,1079.39 1767.0,1080.40 1773.0,1081.40 1779.0,1082.39 1785.0,1083.37 1791.0,1084.34 1797.0,1085.30 1803.0,1086.24 1809.0,1087.18 1815.0,1088.10 1821.0,1089.01 1827.0,1089.91 1833.0,1090.80 1839.0,1091.68 1845.0,1092.54 1851.0,1093.39 1857.0,1094.22 1863.0,1095.04 1869.0,1095.85 1875.0,1096.65 1881.0,1097.43 1887.0,1098.20 1893.0,1098.96 1899.0,1099.70 1905.0,1100.43 1911.0,1101.14 1917.0,1101.84 1923.0,1102.53 1929.0,1103.20 1935.0,1103.86 1941.0,1104.51 1947.0,1105.14 1953.0,1105.76 1959.0,1106.37 1965.0,1106.96 1971.0,1107.54 1977.0,1108.10 1983.0,1108.66 1989.0,1109.20 1995.0,1109.72 2001.0,1110.24 2007.0,1110.74 2013.0,1111.23 2019.0,1111.71 2025.0,1112.17 2031.0,1112.62 2037.0,1113.06 2043.0,1113.49 2049.0,1113.91 2055.0,1114.32 2061.0,1114.71 2067.0,1115.09 2073.0,1115.47 2079.0,1115.83 2085.0,1116.18 2091.0,1116.52 2097.0,1116.85 2103.0,1117.17 2109.0,1117.49 2115.0,1117.79 2121.0,1118.08 2127.0,1118.37 2133.0,1118.64 2139.0,1118.91 2145.0,1119.16 2151.0,1119.41 2157.0,1119.65 2163.0,1119.89 2169.0,1120.11 2171.0,1120.18" fill="none" stroke="#000" stroke-width="3.6" stroke-linejoin="round" stroke-linecap="round"/>
<line x1="1295.0" y1="1136.47" x2="1295.0" y2="1177.07" stroke="#000" stroke-opacity="0.96" stroke-width="16" stroke-linecap="round"/>
<path d="M1095.0,1240.41 L1095.0,1147.88 1101.0,1147.02 1107.0,1146.17 1113.0,1145.35 1119.0,1144.54 1125.0,1143.75 1131.0,1142.99 1137.0,1142.24 1143.0,1141.52 1149.0,1140.82 1155.0,1140.15 1161.0,1139.50 1167.0,1138.87 1173.0,1138.27 1179.0,1137.70 1185.0,1137.15 1191.0,1136.62 1197.0,1136.13 1203.0,1135.66 1209.0,1135.22 1215.0,1134.80 1221.0,1134.42 1227.0,1134.06 1233.0,1133.74 1239.0,1133.44 1245.0,1133.17 1251.0,1132.93 1257.0,1132.72 1263.0,1132.55 1269.0,1132.40 1275.0,1132.28 1281.0,1132.19 1287.0,1132.14 1293.0,1132.11 1299.0,1132.12 1305.0,1132.15 1311.0,1132.22 1317.0,1132.32 1323.0,1132.44 1329.0,1132.60 1335.0,1132.79 1341.0,1133.01 1347.0,1133.26 1353.0,1133.53 1359.0,1133.84 1365.0,1134.18 1371.0,1134.54 1377.0,1134.94 1383.0,1135.36 1389.0,1135.81 1395.0,1136.29 1401.0,1136.79 1407.0,1137.33 1413.0,1137.88 1419.0,1138.47 1425.0,1139.08 1431.0,1139.71 1437.0,1140.37 1443.0,1141.05 1449.0,1141.76 1455.0,1142.49 1461.0,1143.24 1467.0,1144.01 1473.0,1144.81 1479.0,1145.62 1485.0,1146.45 1491.0,1147.31 1497.0,1148.18 1503.0,1149.06 1509.0,1149.97 1515.0,1150.89 1521.0,1151.83 1527.0,1152.78 1533.0,1153.75 1539.0,1154.73 1545.0,1155.72 1551.0,1156.73 1557.0,1157.75 1563.0,1158.78 1569.0,1159.81 1575.0,1160.86 1581.0,1161.92 1587.0,1162.98 1593.0,1164.05 1599.0,1165.13 1605.0,1166.21 1611.0,1167.30 1617.0,1168.39 1623.0,1169.49 1629.0,1170.59 1635.0,1171.69 1641.0,1172.80 1647.0,1173.90 1653.0,1175.01 1659.0,1176.11 1665.0,1177.22 1671.0,1178.32 1677.0,1179.42 1683.0,1180.52 1689.0,1181.62 1695.0,1182.71 1701.0,1183.80 1707.0,1184.88 1713.0,1185.96 1719.0,1187.03 1725.0,1188.10 1731.0,1189.15 1737.0,1190.21 1743.0,1191.25 1749.0,1192.29 1755.0,1193.31 1761.0,1194.33 1767.0,1195.34 1773.0,1196.34 1779.0,1197.33 1785.0,1198.31 1791.0,1199.28 1797.0,1200.24 1803.0,1201.18 1809.0,1202.12 1815.0,1203.04 1821.0,1203.95 1827.0,1204.85 1833.0,1205.74 1839.0,1206.62 1845.0,1207.48 1851.0,1208.33 1857.0,1209.16 1863.0,1209.98 1869.0,1210.79 1875.0,1211.59 1881.0,1212.37 1887.0,1213.14 1893.0,1213.90 1899.0,1214.64 1905.0,1215.37 1911.0,1216.08 1917.0,1216.78 1923.0,1217.47 1929.0,1218.14 1935.0,1218.80 1941.0,1219.45 1947.0,1220.08 1953.0,1220.70 1959.0,1221.31 1965.0,1221.90 1971.0,1222.48 1977.0,1223.04 1983.0,1223.60 1989.0,1224.14 1995.0,1224.66 2001.0,1225.18 2007.0,1225.68 2013.0,1226.17 2019.0,1226.65 2025.0,1227.11 2031.0,1227.56 2037.0,1228.00 2043.0,1228.43 2049.0,1228.85 2055.0,1229.26 2061.0,1229.65 2067.0,1230.03 2073.0,1230.41 2079.0,1230.77 2085.0,1231.12 2091.0,1231.46 2097.0,1231.79 2103.0,1232.11 2109.0,1232.43 2115.0,1232.73 2121.0,1233.02 2127.0,1233.31 2133.0,1233.58 2139.0,1233.85 2145.0,1234.10 2151.0,1234.35 2157.0,1234.59 2163.0,1234.83 2169.0,1235.05 2171.0,1235.12 L2171.0,1240.41Z" fill="#00C19F" fill-opacity="0.5"/>
<path d="M1095.0,1147.88 1101.0,1147.02 1107.0,1146.17 1113.0,1145.35 1119.0,1144.54 1125.0,1143.75 1131.0,1142.99 1137.0,1142.24 1143.0,1141.52 1149.0,1140.82 1155.0,1140.15 1161.0,1139.50 1167.0,1138.87 1173.0,1138.27 1179.0,1137.70 1185.0,1137.15 1191.0,1136.62 1197.0,1136.13 1203.0,1135.66 1209.0,1135.22 1215.0,1134.80 1221.0,1134.42 1227.0,1134.06 1233.0,1133.74 1239.0,1133.44 1245.0,1133.17 1251.0,1132.93 1257.0,1132.72 1263.0,1132.55 1269.0,1132.40 1275.0,1132.28 1281.0,1132.19 1287.0,1132.14 1293.0,1132.11 1299.0,1132.12 1305.0,1132.15 1311.0,1132.22 1317.0,1132.32 1323.0,1132.44 1329.0,1132.60 1335.0,1132.79 1341.0,1133.01 1347.0,1133.26 1353.0,1133.53 1359.0,1133.84 1365.0,1134.18 1371.0,1134.54 1377.0,1134.94 1383.0,1135.36 1389.0,1135.81 1395.0,1136.29 1401.0,1136.79 1407.0,1137.33 1413.0,1137.88 1419.0,1138.47 1425.0,1139.08 1431.0,1139.71 1437.0,1140.37 1443.0,1141.05 1449.0,1141.76 1455.0,1142.49 1461.0,1143.24 1467.0,1144.01 1473.0,1144.81 1479.0,1145.62 1485.0,1146.45 1491.0,1147.31 1497.0,1148.18 1503.0,1149.06 1509.0,1149.97 1515.0,1150.89 1521.0,1151.83 1527.0,1152.78 1533.0,1153.75 1539.0,1154.73 1545.0,1155.72 1551.0,1156.73 1557.0,1157.75 1563.0,1158.78 1569.0,1159.81 1575.0,1160.86 1581.0,1161.92 1587.0,1162.98 1593.0,1164.05 1599.0,1165.13 1605.0,1166.21 1611.0,1167.30 1617.0,1168.39 1623.0,1169.49 1629.0,1170.59 1635.0,1171.69 1641.0,1172.80 1647.0,1173.90 1653.0,1175.01 1659.0,1176.11 1665.0,1177.22 1671.0,1178.32 1677.0,1179.42 1683.0,1180.52 1689.0,1181.62 1695.0,1182.71 1701.0,1183.80 1707.0,1184.88 1713.0,1185.96 1719.0,1187.03 1725.0,1188.10 1731.0,1189.15 1737.0,1190.21 1743.0,1191.25 1749.0,1192.29 1755.0,1193.31 1761.0,1194.33 1767.0,1195.34 1773.0,1196.34 1779.0,1197.33 1785.0,1198.31 1791.0,1199.28 1797.0,1200.24 1803.0,1201.18 1809.0,1202.12 1815.0,1203.04 1821.0,1203.95 1827.0,1204.85 1833.0,1205.74 1839.0,1206.62 1845.0,1207.48 1851.0,1208.33 1857.0,1209.16 1863.0,1209.98 1869.0,1210.79 1875.0,1211.59 1881.0,1212.37 1887.0,1213.14 1893.0,1213.90 1899.0,1214.64 1905.0,1215.37 1911.0,1216.08 1917.0,1216.78 1923.0,1217.47 1929.0,1218.14 1935.0,1218.80 1941.0,1219.45 1947.0,1220.08 1953.0,1220.70 1959.0,1221.31 1965.0,1221.90 1971.0,1222.48 1977.0,1223.04 1983.0,1223.60 1989.0,1224.14 1995.0,1224.66 2001.0,1225.18 2007.0,1225.68 2013.0,1226.17 2019.0,1226.65 2025.0,1227.11 2031.0,1227.56 2037.0,1228.00 2043.0,1228.43 2049.0,1228.85 2055.0,1229.26 2061.0,1229.65 2067.0,1230.03 2073.0,1230.41 2079.0,1230.77 2085.0,1231.12 2091.0,1231.46 2097.0,1231.79 2103.0,1232.11 2109.0,1232.43 2115.0,1232.73 2121.0,1233.02 2127.0,1233.31 2133.0,1233.58 2139.0,1233.85 2145.0,1234.10 2151.0,1234.35 2157.0,1234.59 2163.0,1234.83 2169.0,1235.05 2171.0,1235.12" fill="none" stroke="#000" stroke-width="3.6" stroke-linejoin="round" stroke-linecap="round"/>
<line x1="1295.0" y1="1247.41" x2="1295.0" y2="1289.41" stroke="#000" stroke-opacity="1.0" stroke-width="16" stroke-linecap="round"/>
<path d="M1095.0,1355.35 L1095.0,1262.82 1101.0,1261.96 1107.0,1261.11 1113.0,1260.29 1119.0,1259.48 1125.0,1258.69 1131.0,1257.93 1137.0,1257.18 1143.0,1256.46 1149.0,1255.76 1155.0,1255.09 1161.0,1254.44 1167.0,1253.81 1173.0,1253.21 1179.0,1252.64 1185.0,1252.09 1191.0,1251.56 1197.0,1251.07 1203.0,1250.60 1209.0,1250.16 1215.0,1249.74 1221.0,1249.36 1227.0,1249.00 1233.0,1248.68 1239.0,1248.38 1245.0,1248.11 1251.0,1247.87 1257.0,1247.66 1263.0,1247.49 1269.0,1247.34 1275.0,1247.22 1281.0,1247.13 1287.0,1247.08 1293.0,1247.05 1299.0,1247.06 1305.0,1247.09 1311.0,1247.16 1317.0,1247.26 1323.0,1247.38 1329.0,1247.54 1335.0,1247.73 1341.0,1247.95 1347.0,1248.20 1353.0,1248.47 1359.0,1248.78 1365.0,1249.12 1371.0,1249.48 1377.0,1249.88 1383.0,1250.30 1389.0,1250.75 1395.0,1251.23 1401.0,1251.73 1407.0,1252.27 1413.0,1252.82 1419.0,1253.41 1425.0,1254.02 1431.0,1254.65 1437.0,1255.31 1443.0,1255.99 1449.0,1256.70 1455.0,1257.43 1461.0,1258.18 1467.0,1258.95 1473.0,1259.75 1479.0,1260.56 1485.0,1261.39 1491.0,1262.25 1497.0,1263.12 1503.0,1264.00 1509.0,1264.91 1515.0,1265.83 1521.0,1266.77 1527.0,1267.72 1533.0,1268.69 1539.0,1269.67 1545.0,1270.66 1551.0,1271.67 1557.0,1272.69 1563.0,1273.72 1569.0,1274.75 1575.0,1275.80 1581.0,1276.86 1587.0,1277.92 1593.0,1278.99 1599.0,1280.07 1605.0,1281.15 1611.0,1282.24 1617.0,1283.33 1623.0,1284.43 1629.0,1285.53 1635.0,1286.63 1641.0,1287.74 1647.0,1288.84 1653.0,1289.95 1659.0,1291.05 1665.0,1292.16 1671.0,1293.26 1677.0,1294.36 1683.0,1295.46 1689.0,1296.56 1695.0,1297.65 1701.0,1298.74 1707.0,1299.82 1713.0,1300.90 1719.0,1301.97 1725.0,1303.04 1731.0,1304.09 1737.0,1305.15 1743.0,1306.19 1749.0,1307.23 1755.0,1308.25 1761.0,1309.27 1767.0,1310.28 1773.0,1311.28 1779.0,1312.27 1785.0,1313.25 1791.0,1314.22 1797.0,1315.18 1803.0,1316.12 1809.0,1317.06 1815.0,1317.98 1821.0,1318.89 1827.0,1319.79 1833.0,1320.68 1839.0,1321.56 1845.0,1322.42 1851.0,1323.27 1857.0,1324.10 1863.0,1324.92 1869.0,1325.73 1875.0,1326.53 1881.0,1327.31 1887.0,1328.08 1893.0,1328.84 1899.0,1329.58 1905.0,1330.31 1911.0,1331.02 1917.0,1331.72 1923.0,1332.41 1929.0,1333.08 1935.0,1333.74 1941.0,1334.39 1947.0,1335.02 1953.0,1335.64 1959.0,1336.25 1965.0,1336.84 1971.0,1337.42 1977.0,1337.98 1983.0,1338.54 1989.0,1339.08 1995.0,1339.60 2001.0,1340.12 2007.0,1340.62 2013.0,1341.11 2019.0,1341.59 2025.0,1342.05 2031.0,1342.50 2037.0,1342.94 2043.0,1343.37 2049.0,1343.79 2055.0,1344.20 2061.0,1344.59 2067.0,1344.97 2073.0,1345.35 2079.0,1345.71 2085.0,1346.06 2091.0,1346.40 2097.0,1346.73 2103.0,1347.05 2109.0,1347.37 2115.0,1347.67 2121.0,1347.96 2127.0,1348.25 2133.0,1348.52 2139.0,1348.79 2145.0,1349.04 2151.0,1349.29 2157.0,1349.53 2163.0,1349.77 2169.0,1349.99 2175.0,1350.21 2176.4,1350.26 L2176.4,1355.35Z" fill="#00BF74" fill-opacity="0.5"/>
<path d="M1095.0,1262.82 1101.0,1261.96 1107.0,1261.11 1113.0,1260.29 1119.0,1259.48 1125.0,1258.69 1131.0,1257.93 1137.0,1257.18 1143.0,1256.46 1149.0,1255.76 1155.0,1255.09 1161.0,1254.44 1167.0,1253.81 1173.0,1253.21 1179.0,1252.64 1185.0,1252.09 1191.0,1251.56 1197.0,1251.07 1203.0,1250.60 1209.0,1250.16 1215.0,1249.74 1221.0,1249.36 1227.0,1249.00 1233.0,1248.68 1239.0,1248.38 1245.0,1248.11 1251.0,1247.87 1257.0,1247.66 1263.0,1247.49 1269.0,1247.34 1275.0,1247.22 1281.0,1247.13 1287.0,1247.08 1293.0,1247.05 1299.0,1247.06 1305.0,1247.09 1311.0,1247.16 1317.0,1247.26 1323.0,1247.38 1329.0,1247.54 1335.0,1247.73 1341.0,1247.95 1347.0,1248.20 1353.0,1248.47 1359.0,1248.78 1365.0,1249.12 1371.0,1249.48 1377.0,1249.88 1383.0,1250.30 1389.0,1250.75 1395.0,1251.23 1401.0,1251.73 1407.0,1252.27 1413.0,1252.82 1419.0,1253.41 1425.0,1254.02 1431.0,1254.65 1437.0,1255.31 1443.0,1255.99 1449.0,1256.70 1455.0,1257.43 1461.0,1258.18 1467.0,1258.95 1473.0,1259.75 1479.0,1260.56 1485.0,1261.39 1491.0,1262.25 1497.0,1263.12 1503.0,1264.00 1509.0,1264.91 1515.0,1265.83 1521.0,1266.77 1527.0,1267.72 1533.0,1268.69 1539.0,1269.67 1545.0,1270.66 1551.0,1271.67 1557.0,1272.69 1563.0,1273.72 1569.0,1274.75 1575.0,1275.80 1581.0,1276.86 1587.0,1277.92 1593.0,1278.99 1599.0,1280.07 1605.0,1281.15 1611.0,1282.24 1617.0,1283.33 1623.0,1284.43 1629.0,1285.53 1635.0,1286.63 1641.0,1287.74 1647.0,1288.84 1653.0,1289.95 1659.0,1291.05 1665.0,1292.16 1671.0,1293.26 1677.0,1294.36 1683.0,1295.46 1689.0,1296.56 1695.0,1297.65 1701.0,1298.74 1707.0,1299.82 1713.0,1300.90 1719.0,1301.97 1725.0,1303.04 1731.0,1304.09 1737.0,1305.15 1743.0,1306.19 1749.0,1307.23 1755.0,1308.25 1761.0,1309.27 1767.0,1310.28 1773.0,1311.28 1779.0,1312.27 1785.0,1313.25 1791.0,1314.22 1797.0,1315.18 1803.0,1316.12 1809.0,1317.06 1815.0,1317.98 1821.0,1318.89 1827.0,1319.79 1833.0,1320.68 1839.0,1321.56 1845.0,1322.42 1851.0,1323.27 1857.0,1324.10 1863.0,1324.92 1869.0,1325.73 1875.0,1326.53 1881.0,1327.31 1887.0,1328.08 1893.0,1328.84 1899.0,1329.58 1905.0,1330.31 1911.0,1331.02 1917.0,1331.72 1923.0,1332.41 1929.0,1333.08 1935.0,1333.74 1941.0,1334.39 1947.0,1335.02 1953.0,1335.64 1959.0,1336.25 1965.0,1336.84 1971.0,1337.42 1977.0,1337.98 1983.0,1338.54 1989.0,1339.08 1995.0,1339.60 2001.0,1340.12 2007.0,1340.62 2013.0,1341.11 2019.0,1341.59 2025.0,1342.05 2031.0,1342.50 2037.0,1342.94 2043.0,1343.37 2049.0,1343.79 2055.0,1344.20 2061.0,1344.59 2067.0,1344.97 2073.0,1345.35 2079.0,1345.71 2085.0,1346.06 2091.0,1346.40 2097.0,1346.73 2103.0,1347.05 2109.0,1347.37 2115.0,1347.67 2121.0,1347.96 2127.0,1348.25 2133.0,1348.52 2139.0,1348.79 2145.0,1349.04 2151.0,1349.29 2157.0,1349.53 2163.0,1349.77 2169.0,1349.99 2175.0,1350.21 2176.4,1350.26" fill="none" stroke="#000" stroke-width="3.6" stroke-linejoin="round" stroke-linecap="round"/>
<line x1="1295.0" y1="1362.35" x2="1295.0" y2="1405.05" stroke="#000" stroke-opacity="1.0" stroke-width="16" stroke-linecap="round"/>
<path d="M1095.0,1470.29 L1095.0,1377.76 1101.0,1376.90 1107.0,1376.05 1113.0,1375.23 1119.0,1374.42 1125.0,1373.63 1131.0,1372.87 1137.0,1372.12 1143.0,1371.40 1149.0,1370.70 1155.0,1370.03 1161.0,1369.38 1167.0,1368.75 1173.0,1368.15 1179.0,1367.58 1185.0,1367.03 1191.0,1366.50 1197.0,1366.01 1203.0,1365.54 1209.0,1365.10 1215.0,1364.68 1221.0,1364.30 1227.0,1363.94 1233.0,1363.62 1239.0,1363.32 1245.0,1363.05 1251.0,1362.81 1257.0,1362.60 1263.0,1362.43 1269.0,1362.28 1275.0,1362.16 1281.0,1362.07 1287.0,1362.02 1293.0,1361.99 1299.0,1362.00 1305.0,1362.03 1311.0,1362.10 1317.0,1362.20 1323.0,1362.32 1329.0,1362.48 1335.0,1362.67 1341.0,1362.89 1347.0,1363.14 1353.0,1363.41 1359.0,1363.72 1365.0,1364.06 1371.0,1364.42 1377.0,1364.82 1383.0,1365.24 1389.0,1365.69 1395.0,1366.17 1401.0,1366.67 1407.0,1367.21 1413.0,1367.76 1419.0,1368.35 1425.0,1368.96 1431.0,1369.59 1437.0,1370.25 1443.0,1370.93 1449.0,1371.64 1455.0,1372.37 1461.0,1373.12 1467.0,1373.89 1473.0,1374.69 1479.0,1375.50 1485.0,1376.33 1491.0,1377.19 1497.0,1378.06 1503.0,1378.94 1509.0,1379.85 1515.0,1380.77 1521.0,1381.71 1527.0,1382.66 1533.0,1383.63 1539.0,1384.61 1545.0,1385.60 1551.0,1386.61 1557.0,1387.63 1563.0,1388.66 1569.0,1389.69 1575.0,1390.74 1581.0,1391.80 1587.0,1392.86 1593.0,1393.93 1599.0,1395.01 1605.0,1396.09 1611.0,1397.18 1617.0,1398.27 1623.0,1399.37 1629.0,1400.47 1635.0,1401.57 1641.0,1402.68 1647.0,1403.78 1653.0,1404.89 1659.0,1405.99 1665.0,1407.10 1671.0,1408.20 1677.0,1409.30 1683.0,1410.40 1689.0,1411.50 1695.0,1412.59 1701.0,1413.68 1707.0,1414.76 1713.0,1415.84 1719.0,1416.91 1725.0,1417.98 1731.0,1419.03 1737.0,1420.09 1743.0,1421.13 1749.0,1422.17 1755.0,1423.19 1761.0,1424.21 1767.0,1425.22 1773.0,1426.22 1779.0,1427.21 1785.0,1428.19 1791.0,1429.16 1797.0,1430.12 1803.0,1431.06 1809.0,1432.00 1815.0,1432.92 1821.0,1433.83 1827.0,1434.73 1833.0,1435.62 1839.0,1436.50 1845.0,1437.36 1851.0,1438.21 1857.0,1439.04 1863.0,1439.86 1869.0,1440.67 1875.0,1441.47 1881.0,1442.25 1887.0,1443.02 1893.0,1443.78 1899.0,1444.52 1905.0,1445.25 1911.0,1445.96 1917.0,1446.66 1923.0,1447.35 1929.0,1448.02 1935.0,1448.68 1941.0,1449.33 1947.0,1449.96 1953.0,1450.58 1959.0,1451.19 1965.0,1451.78 1971.0,1452.36 1977.0,1452.92 1983.0,1453.48 1989.0,1454.02 1995.0,1454.54 2001.0,1455.06 2007.0,1455.56 2013.0,1456.05 2019.0,1456.53 2025.0,1456.99 2031.0,1457.44 2037.0,1457.88 2043.0,1458.31 2049.0,1458.73 2055.0,1459.14 2061.0,1459.53 2067.0,1459.91 2073.0,1460.29 2079.0,1460.65 2085.0,1461.00 2091.0,1461.34 2097.0,1461.67 2103.0,1461.99 2109.0,1462.31 2115.0,1462.61 2121.0,1462.90 2127.0,1463.19 2133.0,1463.46 2139.0,1463.73 2145.0,1463.98 2151.0,1464.23 2157.0,1464.47 2163.0,1464.71 2169.0,1464.93 2171.0,1465.00 L2171.0,1470.29Z" fill="#00BA38" fill-opacity="0.5"/>
<path d="M1095.0,1377.76 1101.0,1376.90 1107.0,1376.05 1113.0,1375.23 1119.0,1374.42 1125.0,1373.63 1131.0,1372.87 1137.0,1372.12 1143.0,1371.40 1149.0,1370.70 1155.0,1370.03 1161.0,1369.38 1167.0,1368.75 1173.0,1368.15 1179.0,1367.58 1185.0,1367.03 1191.0,1366.50 1197.0,1366.01 1203.0,1365.54 1209.0,1365.10 1215.0,1364.68 1221.0,1364.30 1227.0,1363.94 1233.0,1363.62 1239.0,1363.32 1245.0,1363.05 1251.0,1362.81 1257.0,1362.60 1263.0,1362.43 1269.0,1362.28 1275.0,1362.16 1281.0,1362.07 1287.0,1362.02 1293.0,1361.99 1299.0,1362.00 1305.0,1362.03 1311.0,1362.10 1317.0,1362.20 1323.0,1362.32 1329.0,1362.48 1335.0,1362.67 1341.0,1362.89 1347.0,1363.14 1353.0,1363.41 1359.0,1363.72 1365.0,1364.06 1371.0,1364.42 1377.0,1364.82 1383.0,1365.24 1389.0,1365.69 1395.0,1366.17 1401.0,1366.67 1407.0,1367.21 1413.0,1367.76 1419.0,1368.35 1425.0,1368.96 1431.0,1369.59 1437.0,1370.25 1443.0,1370.93 1449.0,1371.64 1455.0,1372.37 1461.0,1373.12 1467.0,1373.89 1473.0,1374.69 1479.0,1375.50 1485.0,1376.33 1491.0,1377.19 1497.0,1378.06 1503.0,1378.94 1509.0,1379.85 1515.0,1380.77 1521.0,1381.71 1527.0,1382.66 1533.0,1383.63 1539.0,1384.61 1545.0,1385.60 1551.0,1386.61 1557.0,1387.63 1563.0,1388.66 1569.0,1389.69 1575.0,1390.74 1581.0,1391.80 1587.0,1392.86 1593.0,1393.93 1599.0,1395.01 1605.0,1396.09 1611.0,1397.18 1617.0,1398.27 1623.0,1399.37 1629.0,1400.47 1635.0,1401.57 1641.0,1402.68 1647.0,1403.78 1653.0,1404.89 1659.0,1405.99 1665.0,1407.10 1671.0,1408.20 1677.0,1409.30 1683.0,1410.40 1689.0,1411.50 1695.0,1412.59 1701.0,1413.68 1707.0,1414.76 1713.0,1415.84 1719.0,1416.91 1725.0,1417.98 1731.0,1419.03 1737.0,1420.09 1743.0,1421.13 1749.0,1422.17 1755.0,1423.19 1761.0,1424.21 1767.0,1425.22 1773.0,1426.22 1779.0,1427.21 1785.0,1428.19 1791.0,1429.16 1797.0,1430.12 1803.0,1431.06 1809.0,1432.00 1815.0,1432.92 1821.0,1433.83 1827.0,1434.73 1833.0,1435.62 1839.0,1436.50 1845.0,1437.36 1851.0,1438.21 1857.0,1439.04 1863.0,1439.86 1869.0,1440.67 1875.0,1441.47 1881.0,1442.25 1887.0,1443.02 1893.0,1443.78 1899.0,1444.52 1905.0,1445.25 1911.0,1445.96 1917.0,1446.66 1923.0,1447.35 1929.0,1448.02 1935.0,1448.68 1941.0,1449.33 1947.0,1449.96 1953.0,1450.58 1959.0,1451.19 1965.0,1451.78 1971.0,1452.36 1977.0,1452.92 1983.0,1453.48 1989.0,1454.02 1995.0,1454.54 2001.0,1455.06 2007.0,1455.56 2013.0,1456.05 2019.0,1456.53 2025.0,1456.99 2031.0,1457.44 2037.0,1457.88 2043.0,1458.31 2049.0,1458.73 2055.0,1459.14 2061.0,1459.53 2067.0,1459.91 2073.0,1460.29 2079.0,1460.65 2085.0,1461.00 2091.0,1461.34 2097.0,1461.67 2103.0,1461.99 2109.0,1462.31 2115.0,1462.61 2121.0,1462.90 2127.0,1463.19 2133.0,1463.46 2139.0,1463.73 2145.0,1463.98 2151.0,1464.23 2157.0,1464.47 2163.0,1464.71 2169.0,1464.93 2171.0,1465.00" fill="none" stroke="#000" stroke-width="3.6" stroke-linejoin="round" stroke-linecap="round"/>
<line x1="1295.0" y1="1476.29" x2="1295.0" y2="1521.29" stroke="#000" stroke-opacity="1.0" stroke-width="16" stroke-linecap="round"/>
<path d="M1095.0,1585.23 L1095.0,1492.70 1101.0,1491.84 1107.0,1490.99 1113.0,1490.17 1119.0,1489.36 1125.0,1488.57 1131.0,1487.81 1137.0,1487.06 1143.0,1486.34 1149.0,1485.64 1155.0,1484.97 1161.0,1484.32 1167.0,1483.69 1173.0,1483.09 1179.0,1482.52 1185.0,1481.97 1191.0,1481.44 1197.0,1480.95 1203.0,1480.48 1209.0,1480.04 1215.0,1479.62 1221.0,1479.24 1227.0,1478.88 1233.0,1478.56 1239.0,1478.26 1245.0,1477.99 1251.0,1477.75 1257.0,1477.54 1263.0,1477.37 1269.0,1477.22 1275.0,1477.10 1281.0,1477.01 1287.0,1476.96 1293.0,1476.93 1299.0,1476.94 1305.0,1476.97 1311.0,1477.04 1317.0,1477.14 1323.0,1477.26 1329.0,1477.42 1335.0,1477.61 1341.0,1477.83 1347.0,1478.08 1353.0,1478.35 1359.0,1478.66 1365.0,1479.00 1371.0,1479.36 1377.0,1479.76 1383.0,1480.18 1389.0,1480.63 1395.0,1481.11 1401.0,1481.61 1407.0,1482.15 1413.0,1482.70 1419.0,1483.29 1425.0,1483.90 1431.0,1484.53 1437.0,1485.19 1443.0,1485.87 1449.0,1486.58 1455.0,1487.31 1461.0,1488.06 1467.0,1488.83 1473.0,1489.63 1479.0,1490.44 1485.0,1491.27 1491.0,1492.13 1497.0,1493.00 1503.0,1493.88 1509.0,1494.79 1515.0,1495.71 1521.0,1496.65 1527.0,1497.60 1533.0,1498.57 1539.0,1499.55 1545.0,1500.54 1551.0,1501.55 1557.0,1502.57 1563.0,1503.60 1569.0,1504.63 1575.0,1505.68 1581.0,1506.74 1587.0,1507.80 1593.0,1508.87 1599.0,1509.95 1605.0,1511.03 1611.0,1512.12 1617.0,1513.21 1623.0,1514.31 1629.0,1515.41 1635.0,1516.51 1641.0,1517.62 1647.0,1518.72 1653.0,1519.83 1659.0,1520.93 1665.0,1522.04 1671.0,1523.14 1677.0,1524.24 1683.0,1525.34 1689.0,1526.44 1695.0,1527.53 1701.0,1528.62 1707.0,1529.70 1713.0,1530.78 1719.0,1531.85 1725.0,1532.92 1731.0,1533.97 1737.0,1535.03 1743.0,1536.07 1749.0,1537.11 1755.0,1538.13 1761.0,1539.15 1767.0,1540.16 1773.0,1541.16 1779.0,1542.15 1785.0,1543.13 1791.0,1544.10 1797.0,1545.06 1803.0,1546.00 1809.0,1546.94 1815.0,1547.86 1821.0,1548.77 1827.0,1549.67 1833.0,1550.56 1839.0,1551.44 1845.0,1552.30 1851.0,1553.15 1857.0,1553.98 1863.0,1554.80 1869.0,1555.61 1875.0,1556.41 1881.0,1557.19 1887.0,1557.96 1893.0,1558.72 1899.0,1559.46 1905.0,1560.19 1911.0,1560.90 1917.0,1561.60 1923.0,1562.29 1929.0,1562.96 1935.0,1563.62 1941.0,1564.27 1947.0,1564.90 1953.0,1565.52 1959.0,1566.13 1965.0,1566.72 1971.0,1567.30 1977.0,1567.86 1983.0,1568.42 1989.0,1568.96 1995.0,1569.48 2001.0,1570.00 2007.0,1570.50 2013.0,1570.99 2019.0,1571.47 2025.0,1571.93 2031.0,1572.38 2037.0,1572.82 2043.0,1573.25 2049.0,1573.67 2055.0,1574.08 2061.0,1574.47 2067.0,1574.85 2073.0,1575.23 2079.0,1575.59 2085.0,1575.94 2091.0,1576.28 2097.0,1576.61 2103.0,1576.93 2109.0,1577.25 2115.0,1577.55 2121.0,1577.84 2127.0,1578.13 2133.0,1578.40 2139.0,1578.67 2145.0,1578.92 2151.0,1579.17 2157.0,1579.41 2163.0,1579.65 2169.0,1579.87 2171.0,1579.94 L2171.0,1585.23Z" fill="#5EB300" fill-opacity="0.5"/>
<path d="M1095.0,1492.70 1101.0,1491.84 1107.0,1490.99 1113.0,1490.17 1119.0,1489.36 1125.0,1488.57 1131.0,1487.81 1137.0,1487.06 1143.0,1486.34 1149.0,1485.64 1155.0,1484.97 1161.0,1484.32 1167.0,1483.69 1173.0,1483.09 1179.0,1482.52 1185.0,1481.97 1191.0,1481.44 1197.0,1480.95 1203.0,1480.48 1209.0,1480.04 1215.0,1479.62 1221.0,1479.24 1227.0,1478.88 1233.0,1478.56 1239.0,1478.26 1245.0,1477.99 1251.0,1477.75 1257.0,1477.54 1263.0,1477.37 1269.0,1477.22 1275.0,1477.10 1281.0,1477.01 1287.0,1476.96 1293.0,1476.93 1299.0,1476.94 1305.0,1476.97 1311.0,1477.04 1317.0,1477.14 1323.0,1477.26 1329.0,1477.42 1335.0,1477.61 1341.0,1477.83 1347.0,1478.08 1353.0,1478.35 1359.0,1478.66 1365.0,1479.00 1371.0,1479.36 1377.0,1479.76 1383.0,1480.18 1389.0,1480.63 1395.0,1481.11 1401.0,1481.61 1407.0,1482.15 1413.0,1482.70 1419.0,1483.29 1425.0,1483.90 1431.0,1484.53 1437.0,1485.19 1443.0,1485.87 1449.0,1486.58 1455.0,1487.31 1461.0,1488.06 1467.0,1488.83 1473.0,1489.63 1479.0,1490.44 1485.0,1491.27 1491.0,1492.13 1497.0,1493.00 1503.0,1493.88 1509.0,1494.79 1515.0,1495.71 1521.0,1496.65 1527.0,1497.60 1533.0,1498.57 1539.0,1499.55 1545.0,1500.54 1551.0,1501.55 1557.0,1502.57 1563.0,1503.60 1569.0,1504.63 1575.0,1505.68 1581.0,1506.74 1587.0,1507.80 1593.0,1508.87 1599.0,1509.95 1605.0,1511.03 1611.0,1512.12 1617.0,1513.21 1623.0,1514.31 1629.0,1515.41 1635.0,1516.51 1641.0,1517.62 1647.0,1518.72 1653.0,1519.83 1659.0,1520.93 1665.0,1522.04 1671.0,1523.14 1677.0,1524.24 1683.0,1525.34 1689.0,1526.44 1695.0,1527.53 1701.0,1528.62 1707.0,1529.70 1713.0,1530.78 1719.0,1531.85 1725.0,1532.92 1731.0,1533.97 1737.0,1535.03 1743.0,1536.07 1749.0,1537.11 1755.0,1538.13 1761.0,1539.15 1767.0,1540.16 1773.0,1541.16 1779.0,1542.15 1785.0,1543.13 1791.0,1544.10 1797.0,1545.06 1803.0,1546.00 1809.0,1546.94 1815.0,1547.86 1821.0,1548.77 1827.0,1549.67 1833.0,1550.56 1839.0,1551.44 1845.0,1552.30 1851.0,1553.15 1857.0,1553.98 1863.0,1554.80 1869.0,1555.61 1875.0,1556.41 1881.0,1557.19 1887.0,1557.96 1893.0,1558.72 1899.0,1559.46 1905.0,1560.19 1911.0,1560.90 1917.0,1561.60 1923.0,1562.29 1929.0,1562.96 1935.0,1563.62 1941.0,1564.27 1947.0,1564.90 1953.0,1565.52 1959.0,1566.13 1965.0,1566.72 1971.0,1567.30 1977.0,1567.86 1983.0,1568.42 1989.0,1568.96 1995.0,1569.48 2001.0,1570.00 2007.0,1570.50 2013.0,1570.99 2019.0,1571.47 2025.0,1571.93 2031.0,1572.38 2037.0,1572.82 2043.0,1573.25 2049.0,1573.67 2055.0,1574.08 2061.0,1574.47 2067.0,1574.85 2073.0,1575.23 2079.0,1575.59 2085.0,1575.94 2091.0,1576.28 2097.0,1576.61 2103.0,1576.93 2109.0,1577.25 2115.0,1577.55 2121.0,1577.84 2127.0,1578.13 2133.0,1578.40 2139.0,1578.67 2145.0,1578.92 2151.0,1579.17 2157.0,1579.41 2163.0,1579.65 2169.0,1579.87 2171.0,1579.94" fill="none" stroke="#000" stroke-width="3.6" stroke-linejoin="round" stroke-linecap="round"/>
<line x1="1295.0" y1="1591.23" x2="1295.0" y2="1636.23" stroke="#000" stroke-opacity="1.0" stroke-width="16" stroke-linecap="round"/>
<path d="M1095.0,1700.17 L1095.0,1607.64 1101.0,1606.78 1107.0,1605.93 1113.0,1605.11 1119.0,1604.30 1125.0,1603.51 1131.0,1602.75 1137.0,1602.00 1143.0,1601.28 1149.0,1600.58 1155.0,1599.91 1161.0,1599.26 1167.0,1598.63 1173.0,1598.03 1179.0,1597.46 1185.0,1596.91 1191.0,1596.38 1197.0,1595.89 1203.0,1595.42 1209.0,1594.98 1215.0,1594.56 1221.0,1594.18 1227.0,1593.82 1233.0,1593.50 1239.0,1593.20 1245.0,1592.93 1251.0,1592.69 1257.0,1592.48 1263.0,1592.31 1269.0,1592.16 1275.0,1592.04 1281.0,1591.95 1287.0,1591.90 1293.0,1591.87 1299.0,1591.88 1305.0,1591.91 1311.0,1591.98 1317.0,1592.08 1323.0,1592.20 1329.0,1592.36 1335.0,1592.55 1341.0,1592.77 1347.0,1593.02 1353.0,1593.29 1359.0,1593.60 1365.0,1593.94 1371.0,1594.30 1377.0,1594.70 1383.0,1595.12 1389.0,1595.57 1395.0,1596.05 1401.0,1596.55 1407.0,1597.09 1413.0,1597.64 1419.0,1598.23 1425.0,1598.84 1431.0,1599.47 1437.0,1600.13 1443.0,1600.81 1449.0,1601.52 1455.0,1602.25 1461.0,1603.00 1467.0,1603.77 1473.0,1604.57 1479.0,1605.38 1485.0,1606.21 1491.0,1607.07 1497.0,1607.94 1503.0,1608.82 1509.0,1609.73 1515.0,1610.65 1521.0,1611.59 1527.0,1612.54 1533.0,1613.51 1539.0,1614.49 1545.0,1615.48 1551.0,1616.49 1557.0,1617.51 1563.0,1618.54 1569.0,1619.57 1575.0,1620.62 1581.0,1621.68 1587.0,1622.74 1593.0,1623.81 1599.0,1624.89 1605.0,1625.97 1611.0,1627.06 1617.0,1628.15 1623.0,1629.25 1629.0,1630.35 1635.0,1631.45 1641.0,1632.56 1647.0,1633.66 1653.0,1634.77 1659.0,1635.87 1665.0,1636.98 1671.0,1638.08 1677.0,1639.18 1683.0,1640.28 1689.0,1641.38 1695.0,1642.47 1701.0,1643.56 1707.0,1644.64 1713.0,1645.72 1719.0,1646.79 1725.0,1647.86 1731.0,1648.91 1737.0,1649.97 1743.0,1651.01 1749.0,1652.05 1755.0,1653.07 1761.0,1654.09 1767.0,1655.10 1773.0,1656.10 1779.0,1657.09 1785.0,1658.07 1791.0,1659.04 1797.0,1660.00 1803.0,1660.94 1809.0,1661.88 1815.0,1662.80 1821.0,1663.71 1827.0,1664.61 1833.0,1665.50 1839.0,1666.38 1845.0,1667.24 1851.0,1668.09 1857.0,1668.92 1863.0,1669.74 1869.0,1670.55 1875.0,1671.35 1881.0,1672.13 1887.0,1672.90 1893.0,1673.66 1899.0,1674.40 1905.0,1675.13 1911.0,1675.84 1917.0,1676.54 1923.0,1677.23 1929.0,1677.90 1935.0,1678.56 1941.0,1679.21 1947.0,1679.84 1953.0,1680.46 1959.0,1681.07 1965.0,1681.66 1971.0,1682.24 1977.0,1682.80 1983.0,1683.36 1989.0,1683.90 1995.0,1684.42 2001.0,1684.94 2007.0,1685.44 2013.0,1685.93 2019.0,1686.41 2025.0,1686.87 2031.0,1687.32 2037.0,1687.76 2043.0,1688.19 2049.0,1688.61 2055.0,1689.02 2061.0,1689.41 2067.0,1689.79 2073.0,1690.17 2079.0,1690.53 2085.0,1690.88 2091.0,1691.22 2097.0,1691.55 2103.0,1691.87 2109.0,1692.19 2115.0,1692.49 2121.0,1692.78 2127.0,1693.07 2133.0,1693.34 2139.0,1693.61 2145.0,1693.86 2151.0,1694.11 2157.0,1694.35 2163.0,1694.59 2169.0,1694.81 2171.0,1694.88 L2171.0,1700.17Z" fill="#93AA00" fill-opacity="0.5"/>
<path d="M1095.0,1607.64 1101.0,1606.78 1107.0,1605.93 1113.0,1605.11 1119.0,1604.30 1125.0,1603.51 1131.0,1602.75 1137.0,1602.00 1143.0,1601.28 1149.0,1600.58 1155.0,1599.91 1161.0,1599.26 1167.0,1598.63 1173.0,1598.03 1179.0,1597.46 1185.0,1596.91 1191.0,1596.38 1197.0,1595.89 1203.0,1595.42 1209.0,1594.98 1215.0,1594.56 1221.0,1594.18 1227.0,1593.82 1233.0,1593.50 1239.0,1593.20 1245.0,1592.93 1251.0,1592.69 1257.0,1592.48 1263.0,1592.31 1269.0,1592.16 1275.0,1592.04 1281.0,1591.95 1287.0,1591.90 1293.0,1591.87 1299.0,1591.88 1305.0,1591.91 1311.0,1591.98 1317.0,1592.08 1323.0,1592.20 1329.0,1592.36 1335.0,1592.55 1341.0,1592.77 1347.0,1593.02 1353.0,1593.29 1359.0,1593.60 1365.0,1593.94 1371.0,1594.30 1377.0,1594.70 1383.0,1595.12 1389.0,1595.57 1395.0,1596.05 1401.0,1596.55 1407.0,1597.09 1413.0,1597.64 1419.0,1598.23 1425.0,1598.84 1431.0,1599.47 1437.0,1600.13 1443.0,1600.81 1449.0,1601.52 1455.0,1602.25 1461.0,1603.00 1467.0,1603.77 1473.0,1604.57 1479.0,1605.38 1485.0,1606.21 1491.0,1607.07 1497.0,1607.94 1503.0,1608.82 1509.0,1609.73 1515.0,1610.65 1521.0,1611.59 1527.0,1612.54 1533.0,1613.51 1539.0,1614.49 1545.0,1615.48 1551.0,1616.49 1557.0,1617.51 1563.0,1618.54 1569.0,1619.57 1575.0,1620.62 1581.0,1621.68 1587.0,1622.74 1593.0,1623.81 1599.0,1624.89 1605.0,1625.97 1611.0,1627.06 1617.0,1628.15 1623.0,1629.25 1629.0,1630.35 1635.0,1631.45 1641.0,1632.56 1647.0,1633.66 1653.0,1634.77 1659.0,1635.87 1665.0,1636.98 1671.0,1638.08 1677.0,1639.18 1683.0,1640.28 1689.0,1641.38 1695.0,1642.47 1701.0,1643.56 1707.0,1644.64 1713.0,1645.72 1719.0,1646.79 1725.0,1647.86 1731.0,1648.91 1737.0,1649.97 1743.0,1651.01 1749.0,1652.05 1755.0,1653.07 1761.0,1654.09 1767.0,1655.10 1773.0,1656.10 1779.0,1657.09 1785.0,1658.07 1791.0,1659.04 1797.0,1660.00 1803.0,1660.94 1809.0,1661.88 1815.0,1662.80 1821.0,1663.71 1827.0,1664.61 1833.0,1665.50 1839.0,1666.38 1845.0,1667.24 1851.0,1668.09 1857.0,1668.92 1863.0,1669.74 1869.0,1670.55 1875.0,1671.35 1881.0,1672.13 1887.0,1672.90 1893.0,1673.66 1899.0,1674.40 1905.0,1675.13 1911.0,1675.84 1917.0,1676.54 1923.0,1677.23 1929.0,1677.90 1935.0,1678.56 1941.0,1679.21 1947.0,1679.84 1953.0,1680.46 1959.0,1681.07 1965.0,1681.66 1971.0,1682.24 1977.0,1682.80 1983.0,1683.36 1989.0,1683.90 1995.0,1684.42 2001.0,1684.94 2007.0,1685.44 2013.0,1685.93 2019.0,1686.41 2025.0,1686.87 2031.0,1687.32 2037.0,1687.76 2043.0,1688.19 2049.0,1688.61 2055.0,1689.02 2061.0,1689.41 2067.0,1689.79 2073.0,1690.17 2079.0,1690.53 2085.0,1690.88 2091.0,1691.22 2097.0,1691.55 2103.0,1691.87 2109.0,1692.19 2115.0,1692.49 2121.0,1692.78 2127.0,1693.07 2133.0,1693.34 2139.0,1693.61 2145.0,1693.86 2151.0,1694.11 2157.0,1694.35 2163.0,1694.59 2169.0,1694.81 2171.0,1694.88" fill="none" stroke="#000" stroke-width="3.6" stroke-linejoin="round" stroke-linecap="round"/>
<line x1="1295.0" y1="1706.17" x2="1295.0" y2="1751.17" stroke="#000" stroke-opacity="1.0" stroke-width="16" stroke-linecap="round"/>
<path d="M1095.0,1815.11 L1095.0,1722.58 1101.0,1721.72 1107.0,1720.87 1113.0,1720.05 1119.0,1719.24 1125.0,1718.45 1131.0,1717.69 1137.0,1716.94 1143.0,1716.22 1149.0,1715.52 1155.0,1714.85 1161.0,1714.20 1167.0,1713.57 1173.0,1712.97 1179.0,1712.40 1185.0,1711.85 1191.0,1711.32 1197.0,1710.83 1203.0,1710.36 1209.0,1709.92 1215.0,1709.50 1221.0,1709.12 1227.0,1708.76 1233.0,1708.44 1239.0,1708.14 1245.0,1707.87 1251.0,1707.63 1257.0,1707.42 1263.0,1707.25 1269.0,1707.10 1275.0,1706.98 1281.0,1706.89 1287.0,1706.84 1293.0,1706.81 1299.0,1706.82 1305.0,1706.85 1311.0,1706.92 1317.0,1707.02 1323.0,1707.14 1329.0,1707.30 1335.0,1707.49 1341.0,1707.71 1347.0,1707.96 1353.0,1708.23 1359.0,1708.54 1365.0,1708.88 1371.0,1709.24 1377.0,1709.64 1383.0,1710.06 1389.0,1710.51 1395.0,1710.99 1401.0,1711.49 1407.0,1712.03 1413.0,1712.58 1419.0,1713.17 1425.0,1713.78 1431.0,1714.41 1437.0,1715.07 1443.0,1715.75 1449.0,1716.46 1455.0,1717.19 1461.0,1717.94 1467.0,1718.71 1473.0,1719.51 1479.0,1720.32 1485.0,1721.15 1491.0,1722.01 1497.0,1722.88 1503.0,1723.76 1509.0,1724.67 1515.0,1725.59 1521.0,1726.53 1527.0,1727.48 1533.0,1728.45 1539.0,1729.43 1545.0,1730.42 1551.0,1731.43 1557.0,1732.45 1563.0,1733.48 1569.0,1734.51 1575.0,1735.56 1581.0,1736.62 1587.0,1737.68 1593.0,1738.75 1599.0,1739.83 1605.0,1740.91 1611.0,1742.00 1617.0,1743.09 1623.0,1744.19 1629.0,1745.29 1635.0,1746.39 1641.0,1747.50 1647.0,1748.60 1653.0,1749.71 1659.0,1750.81 1665.0,1751.92 1671.0,1753.02 1677.0,1754.12 1683.0,1755.22 1689.0,1756.32 1695.0,1757.41 1701.0,1758.50 1707.0,1759.58 1713.0,1760.66 1719.0,1761.73 1725.0,1762.80 1731.0,1763.85 1737.0,1764.91 1743.0,1765.95 1749.0,1766.99 1755.0,1768.01 1761.0,1769.03 1767.0,1770.04 1773.0,1771.04 1779.0,1772.03 1785.0,1773.01 1791.0,1773.98 1797.0,1774.94 1803.0,1775.88 1809.0,1776.82 1815.0,1777.74 1821.0,1778.65 1827.0,1779.55 1833.0,1780.44 1839.0,1781.32 1845.0,1782.18 1851.0,1783.03 1857.0,1783.86 1863.0,1784.68 1869.0,1785.49 1875.0,1786.29 1881.0,1787.07 1887.0,1787.84 1893.0,1788.60 1899.0,1789.34 1905.0,1790.07 1911.0,1790.78 1917.0,1791.48 1923.0,1792.17 1929.0,1792.84 1935.0,1793.50 1941.0,1794.15 1947.0,1794.78 1953.0,1795.40 1959.0,1796.01 1965.0,1796.60 1971.0,1797.18 1977.0,1797.74 1983.0,1798.30 1989.0,1798.84 1995.0,1799.36 2001.0,1799.88 2007.0,1800.38 2013.0,1800.87 2019.0,1801.35 2025.0,1801.81 2031.0,1802.26 2037.0,1802.70 2043.0,1803.13 2049.0,1803.55 2055.0,1803.96 2061.0,1804.35 2067.0,1804.73 2073.0,1805.11 2079.0,1805.47 2085.0,1805.82 2091.0,1806.16 2097.0,1806.49 2103.0,1806.81 2109.0,1807.13 2115.0,1807.43 2121.0,1807.72 2127.0,1808.01 2133.0,1808.28 2139.0,1808.55 2145.0,1808.80 2151.0,1809.05 2157.0,1809.29 2163.0,1809.53 2169.0,1809.75 2171.0,1809.82 L2171.0,1815.11Z" fill="#B79F00" fill-opacity="0.5"/>
<path d="M1095.0,1722.58 1101.0,1721.72 1107.0,1720.87 1113.0,1720.05 1119.0,1719.24 1125.0,1718.45 1131.0,1717.69 1137.0,1716.94 1143.0,1716.22 1149.0,1715.52 1155.0,1714.85 1161.0,1714.20 1167.0,1713.57 1173.0,1712.97 1179.0,1712.40 1185.0,1711.85 1191.0,1711.32 1197.0,1710.83 1203.0,1710.36 1209.0,1709.92 1215.0,1709.50 1221.0,1709.12 1227.0,1708.76 1233.0,1708.44 1239.0,1708.14 1245.0,1707.87 1251.0,1707.63 1257.0,1707.42 1263.0,1707.25 1269.0,1707.10 1275.0,1706.98 1281.0,1706.89 1287.0,1706.84 1293.0,1706.81 1299.0,1706.82 1305.0,1706.85 1311.0,1706.92 1317.0,1707.02 1323.0,1707.14 1329.0,1707.30 1335.0,1707.49 1341.0,1707.71 1347.0,1707.96 1353.0,1708.23 1359.0,1708.54 1365.0,1708.88 1371.0,1709.24 1377.0,1709.64 1383.0,1710.06 1389.0,1710.51 1395.0,1710.99 1401.0,1711.49 1407.0,1712.03 1413.0,1712.58 1419.0,1713.17 1425.0,1713.78 1431.0,1714.41 1437.0,1715.07 1443.0,1715.75 1449.0,1716.46 1455.0,1717.19 1461.0,1717.94 1467.0,1718.71 1473.0,1719.51 1479.0,1720.32 1485.0,1721.15 1491.0,1722.01 1497.0,1722.88 1503.0,1723.76 1509.0,1724.67 1515.0,1725.59 1521.0,1726.53 1527.0,1727.48 1533.0,1728.45 1539.0,1729.43 1545.0,1730.42 1551.0,1731.43 1557.0,1732.45 1563.0,1733.48 1569.0,1734.51 1575.0,1735.56 1581.0,1736.62 1587.0,1737.68 1593.0,1738.75 1599.0,1739.83 1605.0,1740.91 1611.0,1742.00 1617.0,1743.09 1623.0,1744.19 1629.0,1745.29 1635.0,1746.39 1641.0,1747.50 1647.0,1748.60 1653.0,1749.71 1659.0,1750.81 1665.0,1751.92 1671.0,1753.02 1677.0,1754.12 1683.0,1755.22 1689.0,1756.32 1695.0,1757.41 1701.0,1758.50 1707.0,1759.58 1713.0,1760.66 1719.0,1761.73 1725.0,1762.80 1731.0,1763.85 1737.0,1764.91 1743.0,1765.95 1749.0,1766.99 1755.0,1768.01 1761.0,1769.03 1767.0,1770.04 1773.0,1771.04 1779.0,1772.03 1785.0,1773.01 1791.0,1773.98 1797.0,1774.94 1803.0,1775.88 1809.0,1776.82 1815.0,1777.74 1821.0,1778.65 1827.0,1779.55 1833.0,1780.44 1839.0,1781.32 1845.0,1782.18 1851.0,1783.03 1857.0,1783.86 1863.0,1784.68 1869.0,1785.49 1875.0,1786.29 1881.0,1787.07 1887.0,1787.84 1893.0,1788.60 1899.0,1789.34 1905.0,1790.07 1911.0,1790.78 1917.0,1791.48 1923.0,1792.17 1929.0,1792.84 1935.0,1793.50 1941.0,1794.15 1947.0,1794.78 1953.0,1795.40 1959.0,1796.01 1965.0,1796.60 1971.0,1797.18 1977.0,1797.74 1983.0,1798.30 1989.0,1798.84 1995.0,1799.36 2001.0,1799.88 2007.0,1800.38 2013.0,1800.87 2019.0,1801.35 2025.0,1801.81 2031.0,1802.26 2037.0,1802.70 2043.0,1803.13 2049.0,1803.55 2055.0,1803.96 2061.0,1804.35 2067.0,1804.73 2073.0,1805.11 2079.0,1805.47 2085.0,1805.82 2091.0,1806.16 2097.0,1806.49 2103.0,1806.81 2109.0,1807.13 2115.0,1807.43 2121.0,1807.72 2127.0,1808.01 2133.0,1808.28 2139.0,1808.55 2145.0,1808.80 2151.0,1809.05 2157.0,1809.29 2163.0,1809.53 2169.0,1809.75 2171.0,1809.82" fill="none" stroke="#000" stroke-width="3.6" stroke-linejoin="round" stroke-linecap="round"/>
<line x1="1295.0" y1="1821.31" x2="1295.0" y2="1864.41" stroke="#000" stroke-opacity="1.0" stroke-width="16" stroke-linecap="round"/>
<path d="M1095.0,1930.05 L1095.0,1837.52 1101.0,1836.66 1107.0,1835.81 1113.0,1834.99 1119.0,1834.18 1125.0,1833.39 1131.0,1832.63 1137.0,1831.88 1143.0,1831.16 1149.0,1830.46 1155.0,1829.79 1161.0,1829.14 1167.0,1828.51 1173.0,1827.91 1179.0,1827.34 1185.0,1826.79 1191.0,1826.26 1197.0,1825.77 1203.0,1825.30 1209.0,1824.86 1215.0,1824.44 1221.0,1824.06 1227.0,1823.70 1233.0,1823.38 1239.0,1823.08 1245.0,1822.81 1251.0,1822.57 1257.0,1822.36 1263.0,1822.19 1269.0,1822.04 1275.0,1821.92 1281.0,1821.83 1287.0,1821.78 1293.0,1821.75 1299.0,1821.76 1305.0,1821.79 1311.0,1821.86 1317.0,1821.96 1323.0,1822.08 1329.0,1822.24 1335.0,1822.43 1341.0,1822.65 1347.0,1822.90 1353.0,1823.17 1359.0,1823.48 1365.0,1823.82 1371.0,1824.18 1377.0,1824.58 1383.0,1825.00 1389.0,1825.45 1395.0,1825.93 1401.0,1826.43 1407.0,1826.97 1413.0,1827.52 1419.0,1828.11 1425.0,1828.72 1431.0,1829.35 1437.0,1830.01 1443.0,1830.69 1449.0,1831.40 1455.0,1832.13 1461.0,1832.88 1467.0,1833.65 1473.0,1834.45 1479.0,1835.26 1485.0,1836.09 1491.0,1836.95 1497.0,1837.82 1503.0,1838.70 1509.0,1839.61 1515.0,1840.53 1521.0,1841.47 1527.0,1842.42 1533.0,1843.39 1539.0,1844.37 1545.0,1845.36 1551.0,1846.37 1557.0,1847.39 1563.0,1848.42 1569.0,1849.45 1575.0,1850.50 1581.0,1851.56 1587.0,1852.62 1593.0,1853.69 1599.0,1854.77 1605.0,1855.85 1611.0,1856.94 1617.0,1858.03 1623.0,1859.13 1629.0,1860.23 1635.0,1861.33 1641.0,1862.44 1647.0,1863.54 1653.0,1864.65 1659.0,1865.75 1665.0,1866.86 1671.0,1867.96 1677.0,1869.06 1683.0,1870.16 1689.0,1871.26 1695.0,1872.35 1701.0,1873.44 1707.0,1874.52 1713.0,1875.60 1719.0,1876.67 1725.0,1877.74 1731.0,1878.79 1737.0,1879.85 1743.0,1880.89 1749.0,1881.93 1755.0,1882.95 1761.0,1883.97 1767.0,1884.98 1773.0,1885.98 1779.0,1886.97 1785.0,1887.95 1791.0,1888.92 1797.0,1889.88 1803.0,1890.82 1809.0,1891.76 1815.0,1892.68 1821.0,1893.59 1827.0,1894.49 1833.0,1895.38 1839.0,1896.26 1845.0,1897.12 1851.0,1897.97 1857.0,1898.80 1863.0,1899.62 1869.0,1900.43 1875.0,1901.23 1881.0,1902.01 1887.0,1902.78 1893.0,1903.54 1899.0,1904.28 1905.0,1905.01 1911.0,1905.72 1917.0,1906.42 1923.0,1907.11 1929.0,1907.78 1935.0,1908.44 1941.0,1909.09 1947.0,1909.72 1953.0,1910.34 1959.0,1910.95 1965.0,1911.54 1971.0,1912.12 1977.0,1912.68 1983.0,1913.24 1989.0,1913.78 1995.0,1914.30 2001.0,1914.82 2007.0,1915.32 2013.0,1915.81 2019.0,1916.29 2025.0,1916.75 2031.0,1917.20 2037.0,1917.64 2043.0,1918.07 2049.0,1918.49 2055.0,1918.90 2061.0,1919.29 2067.0,1919.67 2073.0,1920.05 2079.0,1920.41 2085.0,1920.76 2091.0,1921.10 2097.0,1921.43 2103.0,1921.75 2109.0,1922.07 2115.0,1922.37 2121.0,1922.66 2127.0,1922.95 2133.0,1923.22 2139.0,1923.49 2145.0,1923.74 2151.0,1923.99 2157.0,1924.23 2163.0,1924.47 2169.0,1924.69 2171.0,1924.76 L2171.0,1930.05Z" fill="#D39200" fill-opacity="0.5"/>
<path d="M1095.0,1837.52 1101.0,1836.66 1107.0,1835.81 1113.0,1834.99 1119.0,1834.18 1125.0,1833.39 1131.0,1832.63 1137.0,1831.88 1143.0,1831.16 1149.0,1830.46 1155.0,1829.79 1161.0,1829.14 1167.0,1828.51 1173.0,1827.91 1179.0,1827.34 1185.0,1826.79 1191.0,1826.26 1197.0,1825.77 1203.0,1825.30 1209.0,1824.86 1215.0,1824.44 1221.0,1824.06 1227.0,1823.70 1233.0,1823.38 1239.0,1823.08 1245.0,1822.81 1251.0,1822.57 1257.0,1822.36 1263.0,1822.19 1269.0,1822.04 1275.0,1821.92 1281.0,1821.83 1287.0,1821.78 1293.0,1821.75 1299.0,1821.76 1305.0,1821.79 1311.0,1821.86 1317.0,1821.96 1323.0,1822.08 1329.0,1822.24 1335.0,1822.43 1341.0,1822.65 1347.0,1822.90 1353.0,1823.17 1359.0,1823.48 1365.0,1823.82 1371.0,1824.18 1377.0,1824.58 1383.0,1825.00 1389.0,1825.45 1395.0,1825.93 1401.0,1826.43 1407.0,1826.97 1413.0,1827.52 1419.0,1828.11 1425.0,1828.72 1431.0,1829.35 1437.0,1830.01 1443.0,1830.69 1449.0,1831.40 1455.0,1832.13 1461.0,1832.88 1467.0,1833.65 1473.0,1834.45 1479.0,1835.26 1485.0,1836.09 1491.0,1836.95 1497.0,1837.82 1503.0,1838.70 1509.0,1839.61 1515.0,1840.53 1521.0,1841.47 1527.0,1842.42 1533.0,1843.39 1539.0,1844.37 1545.0,1845.36 1551.0,1846.37 1557.0,1847.39 1563.0,1848.42 1569.0,1849.45 1575.0,1850.50 1581.0,1851.56 1587.0,1852.62 1593.0,1853.69 1599.0,1854.77 1605.0,1855.85 1611.0,1856.94 1617.0,1858.03 1623.0,1859.13 1629.0,1860.23 1635.0,1861.33 1641.0,1862.44 1647.0,1863.54 1653.0,1864.65 1659.0,1865.75 1665.0,1866.86 1671.0,1867.96 1677.0,1869.06 1683.0,1870.16 1689.0,1871.26 1695.0,1872.35 1701.0,1873.44 1707.0,1874.52 1713.0,1875.60 1719.0,1876.67 1725.0,1877.74 1731.0,1878.79 1737.0,1879.85 1743.0,1880.89 1749.0,1881.93 1755.0,1882.95 1761.0,1883.97 1767.0,1884.98 1773.0,1885.98 1779.0,1886.97 1785.0,1887.95 1791.0,1888.92 1797.0,1889.88 1803.0,1890.82 1809.0,1891.76 1815.0,1892.68 1821.0,1893.59 1827.0,1894.49 1833.0,1895.38 1839.0,1896.26 1845.0,1897.12 1851.0,1897.97 1857.0,1898.80 1863.0,1899.62 1869.0,1900.43 1875.0,1901.23 1881.0,1902.01 1887.0,1902.78 1893.0,1903.54 1899.0,1904.28 1905.0,1905.01 1911.0,1905.72 1917.0,1906.42 1923.0,1907.11 1929.0,1907.78 1935.0,1908.44 1941.0,1909.09 1947.0,1909.72 1953.0,1910.34 1959.0,1910.95 1965.0,1911.54 1971.0,1912.12 1977.0,1912.68 1983.0,1913.24 1989.0,1913.78 1995.0,1914.30 2001.0,1914.82 2007.0,1915.32 2013.0,1915.81 2019.0,1916.29 2025.0,1916.75 2031.0,1917.20 2037.0,1917.64 2043.0,1918.07 2049.0,1918.49 2055.0,1918.90 2061.0,1919.29 2067.0,1919.67 2073.0,1920.05 2079.0,1920.41 2085.0,1920.76 2091.0,1921.10 2097.0,1921.43 2103.0,1921.75 2109.0,1922.07 2115.0,1922.37 2121.0,1922.66 2127.0,1922.95 2133.0,1923.22 2139.0,1923.49 2145.0,1923.74 2151.0,1923.99 2157.0,1924.23 2163.0,1924.47 2169.0,1924.69 2171.0,1924.76" fill="none" stroke="#000" stroke-width="3.6" stroke-linejoin="round" stroke-linecap="round"/>
<line x1="1295.0" y1="1936.05" x2="1295.0" y2="1981.05" stroke="#000" stroke-opacity="1.0" stroke-width="16" stroke-linecap="round"/>
<path d="M1095.0,2044.99 L1095.0,1952.46 1101.0,1951.60 1107.0,1950.75 1113.0,1949.93 1119.0,1949.12 1125.0,1948.33 1131.0,1947.57 1137.0,1946.82 1143.0,1946.10 1149.0,1945.40 1155.0,1944.73 1161.0,1944.08 1167.0,1943.45 1173.0,1942.85 1179.0,1942.28 1185.0,1941.73 1191.0,1941.20 1197.0,1940.71 1203.0,1940.24 1209.0,1939.80 1215.0,1939.38 1221.0,1939.00 1227.0,1938.64 1233.0,1938.32 1239.0,1938.02 1245.0,1937.75 1251.0,1937.51 1257.0,1937.30 1263.0,1937.13 1269.0,1936.98 1275.0,1936.86 1281.0,1936.77 1287.0,1936.72 1293.0,1936.69 1299.0,1936.70 1305.0,1936.73 1311.0,1936.80 1317.0,1936.90 1323.0,1937.02 1329.0,1937.18 1335.0,1937.37 1341.0,1937.59 1347.0,1937.84 1353.0,1938.11 1359.0,1938.42 1365.0,1938.76 1371.0,1939.12 1377.0,1939.52 1383.0,1939.94 1389.0,1940.39 1395.0,1940.87 1401.0,1941.37 1407.0,1941.91 1413.0,1942.46 1419.0,1943.05 1425.0,1943.66 1431.0,1944.29 1437.0,1944.95 1443.0,1945.63 1449.0,1946.34 1455.0,1947.07 1461.0,1947.82 1467.0,1948.59 1473.0,1949.39 1479.0,1950.20 1485.0,1951.03 1491.0,1951.89 1497.0,1952.76 1503.0,1953.64 1509.0,1954.55 1515.0,1955.47 1521.0,1956.41 1527.0,1957.36 1533.0,1958.33 1539.0,1959.31 1545.0,1960.30 1551.0,1961.31 1557.0,1962.33 1563.0,1963.36 1569.0,1964.39 1575.0,1965.44 1581.0,1966.50 1587.0,1967.56 1593.0,1968.63 1599.0,1969.71 1605.0,1970.79 1611.0,1971.88 1617.0,1972.97 1623.0,1974.07 1629.0,1975.17 1635.0,1976.27 1641.0,1977.38 1647.0,1978.48 1653.0,1979.59 1659.0,1980.69 1665.0,1981.80 1671.0,1982.90 1677.0,1984.00 1683.0,1985.10 1689.0,1986.20 1695.0,1987.29 1701.0,1988.38 1707.0,1989.46 1713.0,1990.54 1719.0,1991.61 1725.0,1992.68 1731.0,1993.73 1737.0,1994.79 1743.0,1995.83 1749.0,1996.87 1755.0,1997.89 1761.0,1998.91 1767.0,1999.92 1773.0,2000.92 1779.0,2001.91 1785.0,2002.89 1791.0,2003.86 1797.0,2004.82 1803.0,2005.76 1809.0,2006.70 1815.0,2007.62 1821.0,2008.53 1827.0,2009.43 1833.0,2010.32 1839.0,2011.20 1845.0,2012.06 1851.0,2012.91 1857.0,2013.74 1863.0,2014.56 1869.0,2015.37 1875.0,2016.17 1881.0,2016.95 1887.0,2017.72 1893.0,2018.48 1899.0,2019.22 1905.0,2019.95 1911.0,2020.66 1917.0,2021.36 1923.0,2022.05 1929.0,2022.72 1935.0,2023.38 1941.0,2024.03 1947.0,2024.66 1953.0,2025.28 1959.0,2025.89 1965.0,2026.48 1971.0,2027.06 1977.0,2027.62 1983.0,2028.18 1989.0,2028.72 1995.0,2029.24 2001.0,2029.76 2007.0,2030.26 2013.0,2030.75 2019.0,2031.23 2025.0,2031.69 2031.0,2032.14 2037.0,2032.58 2043.0,2033.01 2049.0,2033.43 2055.0,2033.84 2061.0,2034.23 2067.0,2034.61 2073.0,2034.99 2079.0,2035.35 2085.0,2035.70 2091.0,2036.04 2097.0,2036.37 2103.0,2036.69 2109.0,2037.01 2115.0,2037.31 2121.0,2037.60 2127.0,2037.89 2133.0,2038.16 2139.0,2038.43 2145.0,2038.68 2151.0,2038.93 2157.0,2039.17 2163.0,2039.41 2169.0,2039.63 2171.0,2039.70 L2171.0,2044.99Z" fill="#E88526" fill-opacity="0.5"/>
<path d="M1095.0,1952.46 1101.0,1951.60 1107.0,1950.75 1113.0,1949.93 1119.0,1949.12 1125.0,1948.33 1131.0,1947.57 1137.0,1946.82 1143.0,1946.10 1149.0,1945.40 1155.0,1944.73 1161.0,1944.08 1167.0,1943.45 1173.0,1942.85 1179.0,1942.28 1185.0,1941.73 1191.0,1941.20 1197.0,1940.71 1203.0,1940.24 1209.0,1939.80 1215.0,1939.38 1221.0,1939.00 1227.0,1938.64 1233.0,1938.32 1239.0,1938.02 1245.0,1937.75 1251.0,1937.51 1257.0,1937.30 1263.0,1937.13 1269.0,1936.98 1275.0,1936.86 1281.0,1936.77 1287.0,1936.72 1293.0,1936.69 1299.0,1936.70 1305.0,1936.73 1311.0,1936.80 1317.0,1936.90 1323.0,1937.02 1329.0,1937.18 1335.0,1937.37 1341.0,1937.59 1347.0,1937.84 1353.0,1938.11 1359.0,1938.42 1365.0,1938.76 1371.0,1939.12 1377.0,1939.52 1383.0,1939.94 1389.0,1940.39 1395.0,1940.87 1401.0,1941.37 1407.0,1941.91 1413.0,1942.46 1419.0,1943.05 1425.0,1943.66 1431.0,1944.29 1437.0,1944.95 1443.0,1945.63 1449.0,1946.34 1455.0,1947.07 1461.0,1947.82 1467.0,1948.59 1473.0,1949.39 1479.0,1950.20 1485.0,1951.03 1491.0,1951.89 1497.0,1952.76 1503.0,1953.64 1509.0,1954.55 1515.0,1955.47 1521.0,1956.41 1527.0,1957.36 1533.0,1958.33 1539.0,1959.31 1545.0,1960.30 1551.0,1961.31 1557.0,1962.33 1563.0,1963.36 1569.0,1964.39 1575.0,1965.44 1581.0,1966.50 1587.0,1967.56 1593.0,1968.63 1599.0,1969.71 1605.0,1970.79 1611.0,1971.88 1617.0,1972.97 1623.0,1974.07 1629.0,1975.17 1635.0,1976.27 1641.0,1977.38 1647.0,1978.48 1653.0,1979.59 1659.0,1980.69 1665.0,1981.80 1671.0,1982.90 1677.0,1984.00 1683.0,1985.10 1689.0,1986.20 1695.0,1987.29 1701.0,1988.38 1707.0,1989.46 1713.0,1990.54 1719.0,1991.61 1725.0,1992.68 1731.0,1993.73 1737.0,1994.79 1743.0,1995.83 1749.0,1996.87 1755.0,1997.89 1761.0,1998.91 1767.0,1999.92 1773.0,2000.92 1779.0,2001.91 1785.0,2002.89 1791.0,2003.86 1797.0,2004.82 1803.0,2005.76 1809.0,2006.70 1815.0,2007.62 1821.0,2008.53 1827.0,2009.43 1833.0,2010.32 1839.0,2011.20 1845.0,2012.06 1851.0,2012.91 1857.0,2013.74 1863.0,2014.56 1869.0,2015.37 1875.0,2016.17 1881.0,2016.95 1887.0,2017.72 1893.0,2018.48 1899.0,2019.22 1905.0,2019.95 1911.0,2020.66 1917.0,2021.36 1923.0,2022.05 1929.0,2022.72 1935.0,2023.38 1941.0,2024.03 1947.0,2024.66 1953.0,2025.28 1959.0,2025.89 1965.0,2026.48 1971.0,2027.06 1977.0,2027.62 1983.0,2028.18 1989.0,2028.72 1995.0,2029.24 2001.0,2029.76 2007.0,2030.26 2013.0,2030.75 2019.0,2031.23 2025.0,2031.69 2031.0,2032.14 2037.0,2032.58 2043.0,2033.01 2049.0,2033.43 2055.0,2033.84 2061.0,2034.23 2067.0,2034.61 2073.0,2034.99 2079.0,2035.35 2085.0,2035.70 2091.0,2036.04 2097.0,2036.37 2103.0,2036.69 2109.0,2037.01 2115.0,2037.31 2121.0,2037.60 2127.0,2037.89 2133.0,2038.16 2139.0,2038.43 2145.0,2038.68 2151.0,2038.93 2157.0,2039.17 2163.0,2039.41 2169.0,2039.63 2171.0,2039.70" fill="none" stroke="#000" stroke-width="3.6" stroke-linejoin="round" stroke-linecap="round"/>
<line x1="1295.0" y1="2053.99" x2="1295.0" y2="2092.79" stroke="#000" stroke-opacity="0.95" stroke-width="16" stroke-linecap="round"/>
<path d="M1095.0,2159.93 L1095.0,2067.40 1101.0,2066.54 1107.0,2065.69 1113.0,2064.87 1119.0,2064.06 1125.0,2063.27 1131.0,2062.51 1137.0,2061.76 1143.0,2061.04 1149.0,2060.34 1155.0,2059.67 1161.0,2059.02 1167.0,2058.39 1173.0,2057.79 1179.0,2057.22 1185.0,2056.67 1191.0,2056.14 1197.0,2055.65 1203.0,2055.18 1209.0,2054.74 1215.0,2054.32 1221.0,2053.94 1227.0,2053.58 1233.0,2053.26 1239.0,2052.96 1245.0,2052.69 1251.0,2052.45 1257.0,2052.24 1263.0,2052.07 1269.0,2051.92 1275.0,2051.80 1281.0,2051.71 1287.0,2051.66 1293.0,2051.63 1299.0,2051.64 1305.0,2051.67 1311.0,2051.74 1317.0,2051.84 1323.0,2051.96 1329.0,2052.12 1335.0,2052.31 1341.0,2052.53 1347.0,2052.78 1353.0,2053.05 1359.0,2053.36 1365.0,2053.70 1371.0,2054.06 1377.0,2054.46 1383.0,2054.88 1389.0,2055.33 1395.0,2055.81 1401.0,2056.31 1407.0,2056.85 1413.0,2057.40 1419.0,2057.99 1425.0,2058.60 1431.0,2059.23 1437.0,2059.89 1443.0,2060.57 1449.0,2061.28 1455.0,2062.01 1461.0,2062.76 1467.0,2063.53 1473.0,2064.33 1479.0,2065.14 1485.0,2065.97 1491.0,2066.83 1497.0,2067.70 1503.0,2068.58 1509.0,2069.49 1515.0,2070.41 1521.0,2071.35 1527.0,2072.30 1533.0,2073.27 1539.0,2074.25 1545.0,2075.24 1551.0,2076.25 1557.0,2077.27 1563.0,2078.30 1569.0,2079.33 1575.0,2080.38 1581.0,2081.44 1587.0,2082.50 1593.0,2083.57 1599.0,2084.65 1605.0,2085.73 1611.0,2086.82 1617.0,2087.91 1623.0,2089.01 1629.0,2090.11 1635.0,2091.21 1641.0,2092.32 1647.0,2093.42 1653.0,2094.53 1659.0,2095.63 1665.0,2096.74 1671.0,2097.84 1677.0,2098.94 1683.0,2100.04 1689.0,2101.14 1695.0,2102.23 1701.0,2103.32 1707.0,2104.40 1713.0,2105.48 1719.0,2106.55 1725.0,2107.62 1731.0,2108.67 1737.0,2109.73 1743.0,2110.77 1749.0,2111.81 1755.0,2112.83 1761.0,2113.85 1767.0,2114.86 1773.0,2115.86 1779.0,2116.85 1785.0,2117.83 1791.0,2118.80 1797.0,2119.76 1803.0,2120.70 1809.0,2121.64 1815.0,2122.56 1821.0,2123.47 1827.0,2124.37 1833.0,2125.26 1839.0,2126.14 1845.0,2127.00 1851.0,2127.85 1857.0,2128.68 1863.0,2129.50 1869.0,2130.31 1875.0,2131.11 1881.0,2131.89 1887.0,2132.66 1893.0,2133.42 1899.0,2134.16 1905.0,2134.89 1911.0,2135.60 1917.0,2136.30 1923.0,2136.99 1929.0,2137.66 1935.0,2138.32 1941.0,2138.97 1947.0,2139.60 1953.0,2140.22 1959.0,2140.83 1965.0,2141.42 1971.0,2142.00 1977.0,2142.56 1983.0,2143.12 1989.0,2143.66 1995.0,2144.18 2001.0,2144.70 2007.0,2145.20 2013.0,2145.69 2019.0,2146.17 2025.0,2146.63 2031.0,2147.08 2037.0,2147.52 2043.0,2147.95 2049.0,2148.37 2055.0,2148.78 2061.0,2149.17 2067.0,2149.55 2073.0,2149.93 2079.0,2150.29 2085.0,2150.64 2091.0,2150.98 2097.0,2151.31 2103.0,2151.63 2109.0,2151.95 2115.0,2152.25 2121.0,2152.54 2127.0,2152.83 2133.0,2153.10 2139.0,2153.37 2145.0,2153.62 2151.0,2153.87 2157.0,2154.11 2163.0,2154.35 2169.0,2154.57 2171.0,2154.64 L2171.0,2159.93Z" fill="#F8766D" fill-opacity="0.5"/>
<path d="M1095.0,2067.40 1101.0,2066.54 1107.0,2065.69 1113.0,2064.87 1119.0,2064.06 1125.0,2063.27 1131.0,2062.51 1137.0,2061.76 1143.0,2061.04 1149.0,2060.34 1155.0,2059.67 1161.0,2059.02 1167.0,2058.39 1173.0,2057.79 1179.0,2057.22 1185.0,2056.67 1191.0,2056.14 1197.0,2055.65 1203.0,2055.18 1209.0,2054.74 1215.0,2054.32 1221.0,2053.94 1227.0,2053.58 1233.0,2053.26 1239.0,2052.96 1245.0,2052.69 1251.0,2052.45 1257.0,2052.24 1263.0,2052.07 1269.0,2051.92 1275.0,2051.80 1281.0,2051.71 1287.0,2051.66 1293.0,2051.63 1299.0,2051.64 1305.0,2051.67 1311.0,2051.74 1317.0,2051.84 1323.0,2051.96 1329.0,2052.12 1335.0,2052.31 1341.0,2052.53 1347.0,2052.78 1353.0,2053.05 1359.0,2053.36 1365.0,2053.70 1371.0,2054.06 1377.0,2054.46 1383.0,2054.88 1389.0,2055.33 1395.0,2055.81 1401.0,2056.31 1407.0,2056.85 1413.0,2057.40 1419.0,2057.99 1425.0,2058.60 1431.0,2059.23 1437.0,2059.89 1443.0,2060.57 1449.0,2061.28 1455.0,2062.01 1461.0,2062.76 1467.0,2063.53 1473.0,2064.33 1479.0,2065.14 1485.0,2065.97 1491.0,2066.83 1497.0,2067.70 1503.0,2068.58 1509.0,2069.49 1515.0,2070.41 1521.0,2071.35 1527.0,2072.30 1533.0,2073.27 1539.0,2074.25 1545.0,2075.24 1551.0,2076.25 1557.0,2077.27 1563.0,2078.30 1569.0,2079.33 1575.0,2080.38 1581.0,2081.44 1587.0,2082.50 1593.0,2083.57 1599.0,2084.65 1605.0,2085.73 1611.0,2086.82 1617.0,2087.91 1623.0,2089.01 1629.0,2090.11 1635.0,2091.21 1641.0,2092.32 1647.0,2093.42 1653.0,2094.53 1659.0,2095.63 1665.0,2096.74 1671.0,2097.84 1677.0,2098.94 1683.0,2100.04 1689.0,2101.14 1695.0,2102.23 1701.0,2103.32 1707.0,2104.40 1713.0,2105.48 1719.0,2106.55 1725.0,2107.62 1731.0,2108.67 1737.0,2109.73 1743.0,2110.77 1749.0,2111.81 1755.0,2112.83 1761.0,2113.85 1767.0,2114.86 1773.0,2115.86 1779.0,2116.85 1785.0,2117.83 1791.0,2118.80 1797.0,2119.76 1803.0,2120.70 1809.0,2121.64 1815.0,2122.56 1821.0,2123.47 1827.0,2124.37 1833.0,2125.26 1839.0,2126.14 1845.0,2127.00 1851.0,2127.85 1857.0,2128.68 1863.0,2129.50 1869.0,2130.31 1875.0,2131.11 1881.0,2131.89 1887.0,2132.66 1893.0,2133.42 1899.0,2134.16 1905.0,2134.89 1911.0,2135.60 1917.0,2136.30 1923.0,2136.99 1929.0,2137.66 1935.0,2138.32 1941.0,2138.97 1947.0,2139.60 1953.0,2140.22 1959.0,2140.83 1965.0,2141.42 1971.0,2142.00 1977.0,2142.56 1983.0,2143.12 1989.0,2143.66 1995.0,2144.18 2001.0,2144.70 2007.0,2145.20 2013.0,2145.69 2019.0,2146.17 2025.0,2146.63 2031.0,2147.08 2037.0,2147.52 2043.0,2147.95 2049.0,2148.37 2055.0,2148.78 2061.0,2149.17 2067.0,2149.55 2073.0,2149.93 2079.0,2150.29 2085.0,2150.64 2091.0,2150.98 2097.0,2151.31 2103.0,2151.63 2109.0,2151.95 2115.0,2152.25 2121.0,2152.54 2127.0,2152.83 2133.0,2153.10 2139.0,2153.37 2145.0,2153.62 2151.0,2153.87 2157.0,2154.11 2163.0,2154.35 2169.0,2154.57 2171.0,2154.64" fill="none" stroke="#000" stroke-width="3.6" stroke-linejoin="round" stroke-linecap="round"/>
<line x1="1295.0" y1="2165.93" x2="1295.0" y2="2210.93" stroke="#000" stroke-opacity="1.0" stroke-width="16" stroke-linecap="round"/>
</g>
<circle cx="1780.9" cy="1379.8" r="7.0" fill="#000" fill-opacity="0.5" stroke="#000" stroke-opacity="0.5" stroke-width="1.8"/>
<line x1="1097.0" y1="97.0" x2="1097.0" y2="2230.5" stroke="#000" stroke-width="4"/>
<line x1="1095.0" y1="2228.5" x2="2338.7" y2="2228.5" stroke="#000" stroke-width="4"/>
<line x1="1086" y1="205.95" x2="1095.0" y2="205.95" stroke="#333" stroke-width="3.7"/>
<text x="1076.5" y="221.75" text-anchor="end" font-size="41.85" font-weight="bold" fill="#4D4D4D">Type_2_diabetes_[n=248].txt</text>
<line x1="1086" y1="320.89" x2="1095.0" y2="320.89" stroke="#333" stroke-width="3.7"/>
<text x="1076.5" y="336.69" text-anchor="end" font-size="41.85" font-weight="bold" fill="#4D4D4D">Type_1_diabetes_[n=58].txt</text>
<line x1="1086" y1="435.83" x2="1095.0" y2="435.83" stroke="#333" stroke-width="3.7"/>
<text x="1076.5" y="451.63" text-anchor="end" font-size="41.85" font-weight="bold" fill="#4D4D4D">Rheumatoid_arthritis_[n=97].txt</text>
<line x1="1086" y1="550.77" x2="1095.0" y2="550.77" stroke="#333" stroke-width="3.7"/>
<text x="1076.5" y="566.57" text-anchor="end" font-size="41.85" font-weight="bold" fill="#4D4D4D">Pneumonia_[n=22].txt</text>
<line x1="1086" y1="665.71" x2="1095.0" y2="665.71" stroke="#333" stroke-width="3.7"/>
<text x="1076.5" y="681.51" text-anchor="end" font-size="41.85" font-weight="bold" fill="#4D4D4D">Otitis_[n=107].txt</text>
<line x1="1086" y1="780.65" x2="1095.0" y2="780.65" stroke="#333" stroke-width="3.7"/>
<text x="1076.5" y="796.45" text-anchor="end" font-size="41.85" font-weight="bold" fill="#4D4D4D">Metabolic_syndrome_[n=50].txt</text>
<line x1="1086" y1="895.59" x2="1095.0" y2="895.59" stroke="#333" stroke-width="3.7"/>
<text x="1076.5" y="911.39" text-anchor="end" font-size="41.85" font-weight="bold" fill="#4D4D4D">Melanoma_[n=64].txt</text>
<line x1="1086" y1="1010.53" x2="1095.0" y2="1010.53" stroke="#333" stroke-width="3.7"/>
<text x="1076.5" y="1026.33" text-anchor="end" font-size="41.85" font-weight="bold" fill="#4D4D4D">Inflammatory_bowel_disease_[n=151].txt</text>
<line x1="1086" y1="1125.47" x2="1095.0" y2="1125.47" stroke="#333" stroke-width="3.7"/>
<text x="1076.5" y="1141.27" text-anchor="end" font-size="41.85" font-weight="bold" fill="#4D4D4D">Infectious_gastroenteritis_[n=20].txt</text>
<line x1="1086" y1="1240.41" x2="1095.0" y2="1240.41" stroke="#333" stroke-width="3.7"/>
<text x="1076.5" y="1256.21" text-anchor="end" font-size="41.85" font-weight="bold" fill="#4D4D4D">Impaired_glucose_tolerance_[n=49].txt</text>
<line x1="1086" y1="1355.35" x2="1095.0" y2="1355.35" stroke="#333" stroke-width="3.7"/>
<text x="1076.5" y="1371.15" text-anchor="end" font-size="41.85" font-weight="bold" fill="#4D4D4D">Hypertension_[n=261].txt</text>
<line x1="1086" y1="1470.29" x2="1095.0" y2="1470.29" stroke="#333" stroke-width="3.7"/>
<text x="1076.5" y="1486.09" text-anchor="end" font-size="41.85" font-weight="bold" fill="#4D4D4D">Hepatitis_B_Virus_[n=99].txt</text>
<line x1="1086" y1="1585.23" x2="1095.0" y2="1585.23" stroke="#333" stroke-width="3.7"/>
<text x="1076.5" y="1601.03" text-anchor="end" font-size="41.85" font-weight="bold" fill="#4D4D4D">Fatty_liver_[n=166].txt</text>
<line x1="1086" y1="1700.17" x2="1095.0" y2="1700.17" stroke="#333" stroke-width="3.7"/>
<text x="1076.5" y="1715.97" text-anchor="end" font-size="41.85" font-weight="bold" fill="#4D4D4D">Colorectal_cancer_[n=352].txt</text>
<line x1="1086" y1="1815.11" x2="1095.0" y2="1815.11" stroke="#333" stroke-width="3.7"/>
<text x="1076.5" y="1830.91" text-anchor="end" font-size="41.85" font-weight="bold" fill="#4D4D4D">Clostridium_difficile_infection_[n=33].txt</text>
<line x1="1086" y1="1930.05" x2="1095.0" y2="1930.05" stroke="#333" stroke-width="3.7"/>
<text x="1076.5" y="1945.85" text-anchor="end" font-size="41.85" font-weight="bold" fill="#4D4D4D">Cirrhosis_[n=123].txt</text>
<line x1="1086" y1="2044.99" x2="1095.0" y2="2044.99" stroke="#333" stroke-width="3.7"/>
<text x="1076.5" y="2060.79" text-anchor="end" font-size="41.85" font-weight="bold" fill="#4D4D4D">Binswanger_disease_[n=20].txt</text>
<line x1="1086" y1="2159.93" x2="1095.0" y2="2159.93" stroke="#333" stroke-width="3.7"/>
<text x="1076.5" y="2175.73" text-anchor="end" font-size="41.85" font-weight="bold" fill="#4D4D4D">Atherosclerotic_cardiovascular_disease_[n=214].txt</text>
<line x1="1154.0" y1="2230.5" x2="1154.0" y2="2239.6" stroke="#333" stroke-width="3.7"/>
<text x="1154.0" y="2277.8" text-anchor="middle" font-size="37.4" fill="#4D4D4D">-8</text>
<line x1="1436.0" y1="2230.5" x2="1436.0" y2="2239.6" stroke="#333" stroke-width="3.7"/>
<text x="1436.0" y="2277.8" text-anchor="middle" font-size="37.4" fill="#4D4D4D">-6</text>
<line x1="1718.0" y1="2230.5" x2="1718.0" y2="2239.6" stroke="#333" stroke-width="3.7"/>
<text x="1718.0" y="2277.8" text-anchor="middle" font-size="37.4" fill="#4D4D4D">-4</text>
<line x1="2000.0" y1="2230.5" x2="2000.0" y2="2239.6" stroke="#333" stroke-width="3.7"/>
<text x="2000.0" y="2277.8" text-anchor="middle" font-size="37.4" fill="#4D4D4D">-2</text>
<line x1="2282.0" y1="2230.5" x2="2282.0" y2="2239.6" stroke="#333" stroke-width="3.7"/>
<text x="2282.0" y="2277.8" text-anchor="middle" font-size="37.4" fill="#4D4D4D">0</text>
<text x="1717.9" y="2330.8" text-anchor="middle" font-size="46.6" fill="#000">log10 (Relative Abundance)</text>
<text x="1096" y="63.5" font-size="55.5" fill="#000">Micrococcus [Genus]</text>
</svg></body></html>
